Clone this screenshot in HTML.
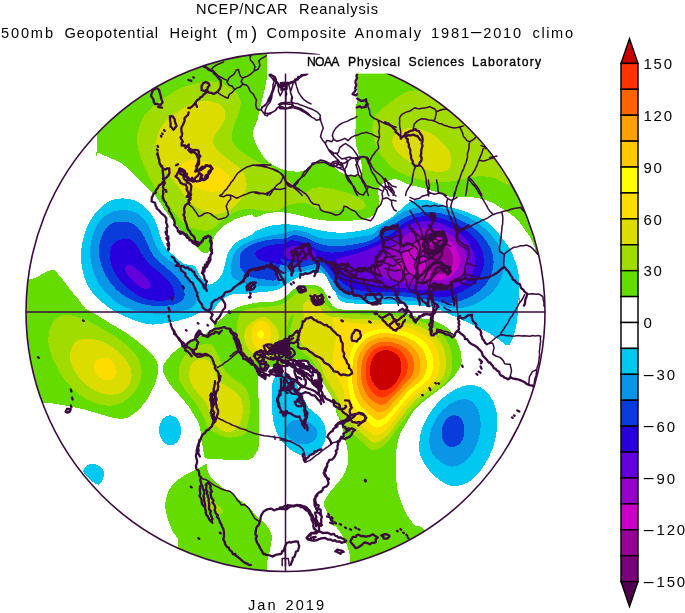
<!DOCTYPE html>
<html><head><meta charset="utf-8"><title>NCEP/NCAR Reanalysis</title>
<style>
html,body{margin:0;padding:0;background:#fff;}
body{width:685px;height:613px;overflow:hidden;position:relative;}
svg{position:absolute;left:0;top:0;display:block;}
text{font-family:"Liberation Sans",sans-serif;fill:#000;}
.t{font-size:14.6px;}
.n{font-size:12.2px;stroke:#000;stroke-width:0.35px;}
.cl{font-size:15px;letter-spacing:1.75px;}
</style></head><body>
<svg width="685" height="613" viewBox="0 0 685 613">
<defs><clipPath id="c"><circle cx="285.5" cy="312" r="259.5"/></clipPath></defs>
<rect width="685" height="613" fill="#fff"/>
<g clip-path="url(#c)">
<g shape-rendering="crispEdges">
<path fill="#00c8f0" d="M116.5,198.9C120.0,198.3 124.6,198.3 128.3,198.9C132.0,199.5 135.5,200.5 138.8,202.3C142.1,204.2 145.4,207.4 148.0,210.2C150.6,213.1 152.8,216.1 154.6,219.4C156.3,222.7 157.4,226.6 158.5,229.9C159.6,233.2 160.1,236.3 161.2,239.1C162.3,242.0 163.1,244.4 165.1,247.0C167.1,249.6 169.9,252.1 173.0,254.9C176.0,257.6 180.0,261.7 183.5,263.6C187.0,265.4 191.4,264.1 194.0,265.9C196.6,267.7 197.7,271.9 199.3,274.3C200.9,276.7 202.0,278.7 203.7,280.4C205.3,282.1 207.0,284.2 208.9,284.5C210.8,284.8 213.1,283.4 215.0,282.2C216.9,280.9 218.8,279.1 220.3,276.9C221.8,274.7 222.9,271.8 223.8,269.1C224.7,266.3 225.2,263.1 225.9,260.3C226.6,257.5 227.1,254.7 228.2,252.4C229.3,250.1 230.7,248.3 232.6,246.3C234.5,244.2 236.6,241.9 239.6,240.1C242.5,238.4 247.5,237.2 250.1,235.8C252.6,234.4 252.1,233.2 255.0,231.7C257.9,230.2 263.2,227.8 267.3,226.6C271.4,225.4 275.4,224.9 279.5,224.6C283.6,224.3 287.7,224.3 291.8,224.6C295.9,224.9 299.9,225.8 304.0,226.6C308.1,227.4 312.2,228.8 316.3,229.7C320.4,230.5 324.5,231.2 328.6,231.7C332.7,232.2 336.7,232.8 340.8,232.8C344.9,232.8 349.0,232.2 353.1,231.7C357.2,231.2 361.3,230.8 365.4,229.7C369.5,228.6 373.8,226.7 377.6,225.0C381.4,223.3 384.9,221.3 388.0,219.5C391.1,217.7 393.5,216.1 396.0,214.0C398.5,211.9 400.7,209.0 403.0,207.0C405.3,205.0 407.5,203.2 410.0,202.0C412.5,200.8 415.1,200.0 418.2,199.7C421.3,199.4 424.6,199.6 428.4,200.4C432.1,201.2 436.9,203.3 440.7,204.5C444.4,205.7 447.2,206.6 450.9,207.6C454.6,208.6 459.0,209.3 463.1,210.7C467.2,212.1 471.6,214.1 475.4,215.8C479.1,217.5 482.5,218.9 485.6,220.9C488.7,222.9 491.4,225.6 493.8,228.0C496.2,230.4 497.8,232.6 499.9,235.2C501.9,237.8 504.2,240.7 506.1,243.4C508.0,246.1 509.7,248.4 511.2,251.5C512.7,254.6 514.1,258.3 515.3,261.7C516.5,265.1 517.6,268.6 518.3,272.0C519.0,275.4 519.1,278.5 519.3,282.2C519.5,285.9 519.2,290.6 519.3,294.4C519.4,298.2 520.1,304.1 520.0,305.0C519.9,305.9 518.9,298.7 518.5,300.0C518.1,301.3 518.2,308.7 517.8,313.0C517.4,317.3 517.1,321.5 516.3,325.7C515.5,329.9 514.4,334.7 513.0,338.0C511.6,341.3 510.2,345.1 508.0,345.5C505.8,345.9 503.3,342.7 500.0,340.5C496.7,338.3 492.8,335.2 488.0,332.5C483.2,329.8 477.3,327.0 471.0,324.0C464.7,321.0 456.8,317.4 450.0,314.5C443.2,311.6 436.7,308.4 430.0,306.8C423.3,305.2 415.8,305.3 410.0,304.8C404.2,304.3 400.0,304.2 395.0,304.0C390.0,303.8 384.7,303.6 380.0,303.5C375.3,303.4 371.0,303.5 366.7,303.5C362.4,303.5 358.1,303.7 354.4,303.5C350.6,303.3 346.8,303.1 344.2,302.4C341.6,301.7 340.5,300.8 339.1,299.4C337.8,298.0 337.0,296.4 336.1,294.3C335.2,292.2 334.9,289.5 334.0,287.1C333.1,284.7 332.3,282.0 330.9,280.0C329.5,278.0 327.7,276.1 325.8,274.9C323.9,273.7 322.4,273.0 319.7,272.8C317.0,272.6 312.9,273.1 309.5,273.8C306.1,274.5 302.4,275.7 299.3,276.9C296.2,278.1 293.5,279.6 291.1,281.0C288.7,282.4 287.1,283.7 285.0,285.1C282.9,286.5 281.2,288.2 278.8,289.2C276.4,290.2 273.8,290.7 270.7,291.2C267.6,291.7 263.8,291.9 260.4,292.2C257.0,292.5 253.6,292.8 250.2,293.2C246.8,293.6 242.4,294.2 240.0,294.3C237.6,294.4 238.5,293.1 236.1,293.6C233.7,294.0 228.6,295.3 225.6,297.1C222.5,298.8 219.9,301.8 217.7,304.1C215.5,306.4 215.0,309.8 212.4,311.1C209.8,312.4 205.4,311.0 201.9,311.9C198.4,312.8 195.3,315.2 191.4,316.6C187.4,318.1 182.6,319.5 178.2,320.6C173.9,321.7 169.5,322.5 165.1,323.2C160.7,323.9 156.3,324.7 152.0,324.5C147.6,324.3 143.2,323.2 138.8,321.9C134.4,320.6 130.1,318.6 125.7,316.6C121.3,314.7 116.5,312.5 112.5,310.1C108.6,307.6 105.3,305.0 102.0,302.2C98.8,299.3 95.5,296.3 92.8,293.0C90.2,289.7 88.0,286.4 86.3,282.5C84.5,278.5 83.2,273.7 82.3,269.3C81.5,265.0 81.1,260.1 81.0,256.2C80.9,252.3 81.2,249.6 81.8,245.7C82.5,241.7 83.6,236.7 85.0,232.5C86.4,228.4 88.0,224.4 90.2,220.7C92.4,217.0 95.3,213.3 98.1,210.2C100.9,207.2 104.2,204.2 107.3,202.3C110.4,200.5 113.0,199.5 116.5,198.9Z"/>
<path fill="#00c8f0" d="M272.0,389.6C272.3,384.7 272.4,381.4 273.9,378.7C275.4,376.0 278.5,373.5 281.2,373.2C283.9,372.9 287.6,374.8 290.3,376.9C293.0,379.0 295.5,382.6 297.6,386.0C299.7,389.4 301.3,393.4 303.1,397.0C304.9,400.6 306.2,404.9 308.6,407.9C311.0,410.9 315.1,412.4 317.7,415.2C320.3,417.9 322.9,420.7 324.3,424.4C325.7,428.1 326.3,433.2 325.8,437.2C325.3,441.1 323.7,445.1 321.4,448.1C319.1,451.1 315.9,454.3 312.2,455.4C308.5,456.5 303.3,455.9 299.4,454.7C295.4,453.5 291.9,451.0 288.5,448.1C285.1,445.2 281.7,441.1 279.3,437.2C276.9,433.2 275.1,429.3 273.9,424.4C272.7,419.5 272.3,413.7 272.0,407.9C271.7,402.1 271.7,394.5 272.0,389.6Z"/>
<path fill="#00c8f0" d="M419.2,447.2C419.2,441.6 420.0,433.7 422.6,427.0C425.1,420.3 429.6,412.7 434.3,406.9C439.1,401.0 445.2,395.4 451.1,391.8C457.0,388.1 464.0,385.3 469.6,385.0C475.2,384.8 480.5,386.7 484.7,390.1C488.9,393.4 492.6,399.6 494.8,405.2C496.9,410.8 497.7,416.7 497.4,423.7C497.2,430.6 495.5,439.9 493.1,447.2C490.7,454.4 487.2,461.4 483.0,467.3C478.8,473.2 473.2,479.3 467.9,482.4C462.6,485.5 456.7,486.9 451.1,485.8C445.5,484.7 439.1,479.9 434.3,475.7C429.6,471.5 425.1,465.3 422.6,460.6C420.0,455.8 419.2,452.8 419.2,447.2Z"/>
<path fill="#00c8f0" d="M170.1,415.3C172.7,415.3 176.0,416.8 177.8,419.4C179.7,421.9 181.2,426.8 181.2,430.4C181.2,434.1 179.7,438.7 177.8,441.2C176.0,443.7 172.6,445.5 170.1,445.5C167.6,445.5 164.6,443.7 162.7,441.2C160.9,438.7 159.1,434.1 159.0,430.4C159.0,426.8 160.5,421.9 162.4,419.4C164.2,416.8 167.5,415.3 170.1,415.3Z"/>
<path fill="#00c8f0" d="M83.4,469.9C84.2,467.7 88.4,464.0 91.5,463.7C94.6,463.4 99.8,465.8 101.8,467.8C103.8,469.9 104.1,473.3 103.8,476.0C103.5,478.7 101.4,483.1 99.7,484.2C98.0,485.3 95.7,483.7 93.6,482.5C91.5,481.3 88.7,479.1 87.0,477.0C85.3,474.9 82.7,472.1 83.4,469.9Z"/>
<path fill="#64dc00" d="M97.0,100.0C97.0,111.7 97.0,91.3 97.0,100.0C97.0,108.7 96.9,143.7 96.9,152.4C96.8,161.1 94.9,151.5 96.9,152.4C98.8,153.2 104.7,155.7 108.6,157.4C112.5,159.1 116.7,160.2 120.4,162.5C124.0,164.7 127.1,167.8 130.4,170.8C133.8,173.9 137.4,177.8 140.5,180.9C143.6,184.0 146.4,186.8 148.9,189.3C151.4,191.8 153.4,193.2 155.6,196.0C157.9,198.8 160.1,202.8 162.3,206.1C164.6,209.5 166.5,212.8 169.1,216.2C171.6,219.5 174.7,222.9 177.5,226.3C180.3,229.6 183.1,233.3 185.8,236.3C188.6,239.4 191.7,242.2 194.2,244.7C196.8,247.2 198.7,250.0 201.0,251.4C203.2,252.8 206.0,254.0 207.7,253.1C209.4,252.3 209.9,249.2 211.0,246.4C212.2,243.6 212.7,239.4 214.4,236.3C216.1,233.3 217.8,230.7 221.1,227.9C224.5,225.1 229.5,221.8 234.5,219.5C239.6,217.3 247.9,214.9 251.3,214.5C254.7,214.1 252.4,217.6 255.0,217.4C257.6,217.2 262.6,214.2 267.0,213.3C271.4,212.5 276.8,212.1 281.6,212.3C286.4,212.5 290.9,213.4 296.0,214.4C301.1,215.4 306.9,217.5 312.0,218.5C317.1,219.5 321.7,220.2 326.5,220.5C331.3,220.8 336.6,220.5 341.0,220.5C345.4,220.5 349.0,220.7 353.0,220.5C357.0,220.3 361.6,220.4 365.0,219.5C368.4,218.6 371.3,216.8 373.5,215.0C375.7,213.2 377.0,211.3 378.0,209.0C379.0,206.7 379.6,204.0 379.6,201.0C379.6,198.0 377.8,193.7 378.0,191.0C378.2,188.3 379.3,186.7 381.0,185.0C382.7,183.3 385.7,182.0 388.0,181.0C390.3,180.0 392.5,178.8 395.0,179.0C397.5,179.2 400.5,181.0 403.0,182.0C405.5,183.0 407.1,184.2 410.0,185.1C412.9,186.0 416.8,186.3 420.2,187.2C423.6,188.0 427.0,189.2 430.4,190.2C433.8,191.2 437.3,192.2 440.7,193.3C444.1,194.4 447.2,196.3 450.9,197.0C454.6,197.7 459.2,197.3 463.0,197.4C466.8,197.5 470.0,197.1 473.4,197.4C476.8,197.7 480.2,198.4 483.6,199.4C487.0,200.4 490.7,202.0 493.8,203.5C496.9,205.0 499.3,206.9 502.0,208.6C504.7,210.3 507.4,211.6 510.1,213.7C512.8,215.8 515.9,218.3 518.3,220.9C520.7,223.5 522.3,226.1 524.4,229.0C526.5,231.9 528.9,235.1 530.6,238.2C532.3,241.3 533.4,244.4 534.7,247.4C536.0,250.4 534.3,253.9 538.5,256.0C542.7,258.1 556.4,259.3 560.0,260.0C563.6,260.7 560.0,298.3 560.0,260.0C560.0,221.7 560.0,68.3 560.0,30.0C560.0,-8.3 637.2,30.0 560.0,30.0C482.8,30.0 174.2,30.0 97.0,30.0C19.8,30.0 97.0,18.3 97.0,30.0C97.0,41.7 97.0,88.3 97.0,100.0Z"/>
<path fill="#64dc00" d="M5.0,280.0C4.7,259.6 0.8,280.2 5.0,280.0C9.2,279.8 24.4,279.7 30.0,279.0C35.6,278.3 35.9,277.2 38.6,276.0C41.3,274.8 43.5,273.1 46.0,272.0C48.5,270.9 51.6,269.5 53.5,269.7C55.4,269.9 55.6,271.3 57.5,273.4C59.4,275.5 62.3,279.0 64.7,282.1C67.1,285.2 69.6,288.9 72.1,292.0C74.6,295.1 77.4,297.9 79.6,300.7C81.8,303.5 82.5,306.1 85.5,308.5C88.4,311.0 93.0,312.7 97.2,315.3C101.4,317.8 105.6,320.6 110.7,323.7C115.7,326.7 122.1,330.1 127.5,333.7C132.8,337.4 138.1,341.6 142.6,345.5C147.0,349.4 151.7,353.6 154.3,357.2C156.9,360.9 158.1,363.4 158.3,367.3C158.6,371.2 157.5,376.0 156.0,380.7C154.5,385.5 152.1,391.1 149.3,395.8C146.5,400.6 142.8,405.6 139.2,409.3C135.6,412.9 131.4,416.2 127.5,417.7C123.5,419.2 120.2,418.9 115.7,418.3C111.2,417.8 105.9,415.8 100.6,414.3C95.3,412.8 89.4,410.7 83.8,409.3C78.2,407.9 72.0,406.9 67.0,405.9C62.0,405.0 57.2,404.1 53.6,403.6C49.9,403.0 53.0,402.7 45.2,402.6C37.3,402.4 13.3,423.0 6.6,402.6C-0.1,382.1 5.3,300.4 5.0,280.0Z"/>
<path fill="#64dc00" d="M162.6,368.4C162.9,364.9 166.1,361.0 168.3,358.0C170.5,355.0 173.0,352.7 175.9,350.4C178.7,348.0 182.2,345.6 185.4,343.7C188.5,341.8 191.4,340.7 194.9,339.0C198.3,337.2 202.4,335.5 206.2,333.3C210.0,331.1 213.8,328.1 217.6,325.7C221.4,323.3 223.6,320.0 229.0,319.1C234.4,318.1 243.3,316.7 249.9,320.0C256.5,323.3 265.7,331.1 268.9,339.0C272.0,346.9 270.6,361.4 268.9,367.4C267.1,373.5 260.2,370.3 258.4,375.0C256.7,379.8 258.3,389.3 258.4,395.9C258.6,402.6 259.2,408.2 259.4,414.9C259.5,421.6 259.5,430.8 259.4,436.0C259.3,441.2 259.3,443.1 258.7,446.1C258.1,449.2 257.2,452.1 255.6,454.3C254.1,456.5 251.9,458.4 249.5,459.4C247.1,460.4 246.1,460.4 241.3,460.4C236.5,460.4 226.7,459.8 220.9,459.4C215.1,459.1 209.5,459.6 206.6,458.4C203.7,457.2 204.7,457.6 203.5,452.3C202.3,446.9 201.0,432.2 199.6,426.3C198.2,420.4 196.6,420.0 194.9,416.8C193.1,413.6 191.4,410.5 189.2,407.3C186.9,404.1 184.3,401.0 181.6,397.8C178.9,394.7 175.6,391.5 173.0,388.3C170.5,385.2 168.1,382.2 166.4,378.8C164.6,375.5 162.3,371.9 162.6,368.4Z"/>
<path fill="#64dc00" d="M230.0,311.0C233.0,309.0 237.0,307.6 240.0,306.5C243.0,305.4 245.1,305.2 248.2,304.5C251.3,303.8 255.0,302.8 258.4,302.4C261.8,302.0 265.2,302.7 268.6,302.4C272.0,302.1 275.9,301.4 278.8,300.4C281.7,299.4 283.9,297.8 286.0,296.3C288.1,294.8 289.2,292.7 291.1,291.2C293.0,289.7 294.8,288.1 297.2,287.1C299.6,286.1 302.7,285.4 305.4,285.1C308.1,284.8 311.1,284.8 313.6,285.1C316.2,285.4 318.8,285.9 320.7,287.1C322.6,288.3 323.6,290.3 324.8,292.2C326.0,294.1 326.9,296.5 327.9,298.4C328.9,300.3 329.7,302.0 330.9,303.5C332.1,305.0 333.1,306.6 335.0,307.6C336.9,308.6 339.3,309.2 342.2,309.6C345.1,310.0 349.0,310.1 352.4,310.2C355.8,310.3 358.0,310.1 362.6,310.2C367.2,310.3 373.8,310.1 380.0,310.6C386.2,311.1 394.7,312.3 400.0,313.0C405.3,313.7 408.3,314.1 412.0,315.0C415.7,315.9 419.2,317.8 422.3,318.5C425.4,319.2 427.7,318.8 430.4,319.5C433.1,320.2 435.9,321.2 438.6,322.6C441.3,324.0 444.2,325.5 446.8,327.7C449.4,329.9 451.9,332.8 453.9,335.9C455.9,339.0 457.8,342.7 459.0,346.1C460.2,349.5 461.0,353.2 461.3,356.3C461.6,359.4 461.9,361.6 461.0,364.5C460.1,367.4 457.9,371.0 456.0,373.7C454.1,376.4 452.1,378.6 449.9,380.8C447.7,383.0 445.3,384.9 442.7,387.0C440.1,389.1 437.2,391.1 434.5,393.1C431.8,395.1 429.0,397.0 426.3,399.2C423.6,401.4 420.4,404.2 418.2,406.4C415.9,408.6 414.7,409.6 412.8,412.3C410.9,415.0 408.7,419.1 406.7,422.5C404.7,425.9 402.1,429.3 400.6,432.7C399.1,436.1 398.2,439.5 397.5,442.9C396.8,446.3 396.4,449.4 396.1,453.1C395.8,456.9 395.5,461.3 395.5,465.4C395.5,469.5 395.8,473.6 396.1,477.7C396.4,481.8 396.8,486.2 397.5,489.9C398.2,493.6 399.4,496.7 400.6,500.1C401.8,503.5 403.0,507.0 404.7,510.4C406.4,513.8 408.9,518.0 410.8,520.6C412.7,523.2 413.6,524.3 416.0,526.0C418.4,527.7 420.9,523.7 424.9,531.0C428.9,538.3 437.5,563.5 440.0,570.0C442.5,576.5 455.0,565.0 440.0,570.0C425.0,575.0 365.0,595.0 350.0,600.0C335.0,605.0 349.9,606.2 350.0,600.0C350.1,593.8 350.4,570.6 350.4,563.0C350.3,555.4 350.5,558.2 349.7,554.6C348.9,551.0 347.4,545.7 345.3,541.2C343.2,536.7 339.1,530.4 336.9,527.7C334.7,525.0 333.4,526.8 332.1,524.9C330.8,523.0 330.0,518.9 329.0,516.5C328.0,514.1 326.9,512.4 326.0,510.4C325.1,508.3 323.9,506.2 323.9,504.2C323.9,502.1 325.0,500.1 326.0,498.1C327.0,496.1 328.6,494.1 330.1,492.0C331.6,489.9 333.5,487.9 335.2,485.8C336.9,483.8 338.8,481.7 340.3,479.7C341.8,477.7 343.2,476.0 344.4,473.6C345.6,471.2 346.7,468.1 347.4,465.4C348.1,462.7 348.5,459.9 348.5,457.2C348.5,454.5 347.9,451.7 347.4,449.0C346.9,446.3 346.1,443.6 345.4,440.9C344.7,438.2 344.1,435.4 343.4,432.7C342.7,430.0 342.2,427.2 341.3,424.5C340.4,421.8 338.9,417.8 338.2,416.3C337.5,414.8 337.3,417.6 336.9,415.5C336.4,413.5 336.4,408.0 335.4,403.9C334.4,399.7 332.7,394.6 331.0,390.7C329.3,386.8 327.4,383.9 325.2,380.5C323.0,377.1 320.8,373.5 317.9,370.3C315.0,367.1 311.3,363.3 307.7,361.5C304.0,359.7 299.4,359.2 296.0,359.5C292.6,359.7 290.6,361.8 287.2,363.0C283.8,364.2 279.2,365.6 275.5,366.5C271.9,367.4 268.2,366.9 265.3,368.2C262.5,369.6 261.3,375.5 258.6,374.7C255.9,373.8 253.3,368.3 249.3,363.0C245.3,357.6 239.2,347.2 234.7,342.6C230.1,337.9 225.4,337.9 222.0,335.0C218.6,332.1 214.0,327.8 214.0,325.0C214.0,322.2 219.3,320.8 222.0,318.5C224.7,316.2 227.0,313.0 230.0,311.0Z"/>
<path fill="#64dc00" d="M165.5,502.0C166.2,497.0 168.3,490.5 171.3,486.2C174.3,481.9 179.4,478.7 183.5,476.0C187.6,473.3 192.2,471.8 195.8,469.9C199.4,468.0 203.2,465.4 205.0,464.5C206.8,463.6 206.1,463.5 206.6,464.5C207.0,465.6 206.9,468.6 207.6,470.7C208.3,472.7 209.1,474.7 210.7,476.8C212.2,478.8 214.7,481.0 216.8,482.9C218.8,484.8 220.7,486.7 222.9,488.0C225.1,489.4 227.9,489.6 230.1,491.1C232.3,492.6 234.3,495.5 236.2,497.2C238.1,498.9 239.4,499.9 241.3,501.3C243.2,502.7 245.6,503.7 247.4,505.4C249.3,507.1 250.8,509.5 252.6,511.5C254.3,513.6 256.0,516.0 257.7,517.7C259.4,519.4 261.2,520.4 262.8,521.7C264.3,523.1 265.7,524.3 266.9,525.8C268.1,527.4 269.1,529.1 269.9,530.9C270.8,532.8 271.8,534.9 272.0,537.1C272.1,539.3 271.3,541.8 270.9,544.2C270.6,546.6 270.4,549.3 269.9,551.4C269.4,553.4 268.6,551.2 267.9,556.5C267.2,561.8 266.2,578.6 265.8,583.1C265.5,587.5 282.9,583.1 265.8,583.1C248.8,583.1 180.7,583.1 163.7,583.1C146.6,583.1 161.3,589.4 163.7,583.1C166.0,576.7 176.6,553.8 178.0,545.0C179.4,536.2 173.8,534.8 172.0,530.0C170.2,525.2 168.1,520.7 167.0,516.0C165.9,511.3 164.8,507.0 165.5,502.0Z"/>
<path fill="#ffffff" d="M267.1,40.0C252.0,40.0 267.1,34.5 267.1,40.0C267.1,45.5 267.2,65.9 267.1,72.8C267.0,79.7 266.8,78.0 266.2,81.5C265.6,85.0 264.6,89.4 263.6,93.8C262.6,98.2 261.1,103.4 260.1,107.8C259.1,112.2 258.4,116.6 257.4,120.1C256.4,123.6 254.6,126.5 253.9,128.8C253.2,131.1 252.9,132.1 253.1,134.1C253.2,136.1 253.8,138.5 254.8,141.1C255.8,143.7 257.7,147.2 259.2,149.9C260.7,152.6 261.8,154.8 263.6,157.0C265.4,159.2 267.4,161.1 270.0,163.0C272.6,164.9 276.2,167.1 279.5,168.4C282.8,169.7 286.6,170.5 290.0,171.0C293.4,171.5 297.2,171.8 300.0,171.5C302.8,171.2 305.0,170.6 307.0,169.4C309.0,168.2 310.3,165.7 312.0,164.3C313.7,162.9 315.3,161.7 317.0,161.0C318.7,160.3 320.6,160.1 322.4,160.3C324.2,160.5 326.3,161.2 328.0,162.0C329.7,162.8 330.6,163.6 332.7,165.3C334.8,167.1 338.4,171.0 340.8,172.5C343.2,174.0 344.6,174.0 347.0,174.5C349.4,175.0 352.7,175.5 355.1,175.5C357.5,175.5 360.1,175.3 361.3,174.5C362.5,173.7 362.3,172.4 362.3,170.4C362.3,168.4 361.9,164.9 361.3,162.3C360.8,159.7 360.0,158.8 359.0,155.0C358.0,151.2 355.9,148.1 355.5,139.3C355.1,130.5 356.3,113.0 356.6,102.0C356.9,91.0 357.4,78.2 357.5,73.5C357.6,68.8 357.5,79.1 357.5,73.5C357.5,67.9 357.5,45.6 357.5,40.0C357.5,34.4 372.6,40.0 357.5,40.0C342.4,40.0 282.2,40.0 267.1,40.0Z"/>
<path fill="#0a96e6" d="M119.1,210.2C123.1,209.7 127.4,210.1 130.9,211.0C134.4,211.9 137.3,213.2 140.1,215.5C143.0,217.7 146.0,221.4 148.0,224.7C150.0,228.0 150.6,231.7 152.0,235.2C153.3,238.7 154.1,242.4 155.9,245.7C157.7,249.0 159.6,252.0 162.5,254.9C165.3,257.7 169.5,259.9 173.0,262.8C176.5,265.6 180.4,268.7 183.5,272.0C186.6,275.2 189.4,279.4 191.4,282.5C193.3,285.5 194.4,287.5 195.3,290.4C196.2,293.2 196.8,296.9 196.6,299.5C196.4,302.2 195.8,304.4 194.0,306.1C192.2,307.9 189.6,309.0 186.1,310.1C182.6,311.2 177.4,312.0 173.0,312.7C168.6,313.3 164.2,314.0 159.8,314.0C155.5,314.0 151.1,313.3 146.7,312.7C142.3,312.0 137.9,311.4 133.6,310.1C129.2,308.7 124.4,307.0 120.4,304.8C116.5,302.6 113.2,300.0 109.9,296.9C106.6,293.9 103.4,290.1 100.7,286.4C98.1,282.7 95.8,278.7 94.2,274.6C92.5,270.4 91.7,265.8 91.0,261.5C90.3,257.1 89.9,252.7 90.2,248.3C90.5,243.9 91.5,239.3 92.8,235.2C94.2,231.0 95.7,226.9 98.1,223.4C100.5,219.8 103.8,216.3 107.3,214.2C110.8,212.0 115.2,210.7 119.1,210.2Z"/>
<path fill="#0a96e6" d="M230.8,270.8C230.7,268.3 231.1,265.0 231.7,262.0C232.3,259.1 232.8,255.9 234.3,253.3C235.8,250.7 237.8,248.3 240.4,246.3C243.1,244.2 246.4,242.5 250.1,241.0C253.7,239.6 258.3,238.5 262.3,237.5C266.4,236.5 270.8,235.6 274.6,234.9C278.4,234.2 281.9,233.9 285.1,233.1C288.4,232.3 290.5,230.3 294.0,230.1C297.5,230.0 302.2,231.2 306.3,232.4C310.4,233.7 314.5,236.5 318.5,237.7C322.6,238.8 326.4,239.2 330.8,239.4C335.2,239.6 340.1,239.3 344.8,238.9C349.5,238.5 354.2,237.6 358.8,236.8C363.5,236.0 369.3,235.8 372.9,234.2C376.4,232.5 376.6,229.2 379.9,226.7C383.1,224.2 388.0,221.6 392.1,219.0C396.2,216.5 399.8,213.4 404.4,211.4C409.0,209.3 414.6,207.6 419.7,206.8C424.8,206.0 429.4,206.0 435.0,206.8C440.7,207.6 447.8,209.6 453.4,211.4C459.0,213.2 463.9,215.0 468.8,217.5C473.6,220.1 478.5,223.4 482.6,226.7C486.6,230.0 490.2,233.6 493.3,237.4C496.3,241.3 499.2,245.6 500.9,249.7C502.7,253.8 503.8,257.9 504.0,262.0C504.3,266.1 503.5,270.4 502.5,274.2C501.5,278.1 499.9,281.6 497.9,285.0C495.8,288.3 493.3,291.3 490.2,294.2C487.1,297.0 483.6,299.6 479.5,301.8C475.4,304.0 470.5,306.3 465.7,307.3C460.8,308.4 456.0,308.6 450.4,308.0C444.7,307.3 440.1,304.6 432.0,303.4C423.8,302.1 411.5,300.8 401.3,300.3C391.1,299.8 375.7,300.4 370.7,300.3C365.6,300.2 373.4,299.9 371.1,299.9C368.8,299.8 361.5,300.2 357.1,299.9C352.7,299.6 348.3,299.3 344.8,298.1C341.3,296.9 338.4,294.9 336.1,292.9C333.7,290.8 332.4,288.5 330.8,285.8C329.2,283.2 328.0,279.7 326.4,277.1C324.8,274.5 323.1,271.5 321.2,270.1C319.3,268.6 317.8,268.2 315.0,268.3C312.3,268.5 308.3,270.2 304.5,271.0C300.7,271.7 296.4,272.7 292.3,272.7C288.2,272.7 282.1,269.1 280.0,271.0C277.9,272.8 281.3,281.5 279.9,283.9C278.4,286.4 274.6,285.4 271.1,285.7C267.6,286.0 262.9,286.0 258.8,285.7C254.7,285.4 250.1,284.8 246.6,283.9C243.1,283.1 240.1,281.6 237.8,280.4C235.5,279.3 233.7,278.5 232.6,276.9C231.4,275.3 231.0,273.3 230.8,270.8Z"/>
<path fill="#0a96e6" d="M286.7,426.2C287.9,423.9 291.0,420.9 294.0,420.0C297.0,419.1 301.5,419.7 304.9,420.7C308.2,421.7 312.0,424.1 314.1,426.2C316.2,428.3 317.8,430.9 317.7,433.5C317.6,436.1 315.7,439.7 313.3,441.5C310.9,443.3 306.6,444.6 303.1,444.5C299.6,444.4 294.8,442.6 292.1,440.8C289.4,439.0 287.6,435.9 286.7,433.5C285.8,431.1 285.5,428.4 286.7,426.2Z"/>
<path fill="#0a96e6" d="M429.3,442.1C429.3,437.4 430.4,430.6 432.6,425.3C434.9,420.0 438.8,414.3 442.7,410.2C446.6,406.1 451.7,402.5 456.1,400.8C460.6,399.1 465.9,398.6 469.6,400.1C473.2,401.7 476.1,405.7 478.0,410.2C479.8,414.7 480.9,421.1 480.7,427.0C480.4,432.9 478.7,439.9 476.3,445.5C473.9,451.1 470.1,457.1 466.2,460.6C462.3,464.1 457.0,466.4 452.8,466.6C448.6,466.9 444.4,464.4 441.0,462.3C437.7,460.1 434.6,457.2 432.6,453.9C430.7,450.5 429.3,446.9 429.3,442.1Z"/>
<path fill="#a0dc00" d="M139.9,124.6C141.2,121.1 142.4,118.0 144.9,114.7C147.4,111.4 151.1,107.9 154.8,104.7C158.5,101.6 163.1,98.7 167.2,96.1C171.4,93.4 175.1,90.7 179.6,88.6C184.2,86.5 189.6,84.9 194.5,83.7C199.5,82.4 204.9,81.2 209.4,81.2C214.0,81.2 217.7,82.0 221.8,83.7C226.0,85.3 231.1,88.4 234.2,91.1C237.3,93.8 239.6,96.3 240.4,99.8C241.3,103.3 240.2,108.1 239.2,112.2C238.2,116.3 235.5,120.7 234.2,124.6C233.0,128.5 231.8,132.5 231.8,135.8C231.8,139.1 232.6,141.8 234.2,144.5C235.9,147.1 238.8,149.6 241.7,151.9C244.6,154.2 248.3,156.2 251.6,158.1C254.9,160.0 257.8,161.4 261.5,163.1C265.3,164.7 267.2,163.4 274.0,168.0C280.7,172.7 295.3,187.6 302.0,190.9C308.7,194.2 310.2,188.3 314.3,187.8C318.4,187.3 322.1,187.3 326.5,187.8C331.0,188.3 336.4,189.7 340.8,190.9C345.3,192.1 349.4,193.3 353.1,195.0C356.8,196.7 361.3,199.0 363.3,201.1C365.4,203.1 366.4,205.7 365.4,207.2C364.3,208.8 360.6,210.1 357.2,210.3C353.8,210.5 348.3,208.2 344.9,208.2C341.5,208.2 340.2,209.8 336.7,210.3C333.3,210.8 328.2,211.8 324.5,211.3C320.7,210.8 317.3,208.6 314.3,207.2C311.2,205.9 309.2,203.8 306.1,203.1C303.0,202.5 299.3,203.0 295.9,203.5C292.5,204.1 289.4,204.9 285.7,206.2C281.9,207.5 279.9,210.8 273.4,211.3C266.9,211.8 254.0,208.3 246.7,209.0C239.3,209.6 235.2,211.8 229.3,215.2C223.3,218.6 216.3,227.2 211.0,229.6C205.8,232.0 201.8,230.5 197.6,229.6C193.4,228.8 189.8,227.4 185.8,224.6C181.9,221.8 177.7,217.0 174.1,212.8C170.5,208.6 167.4,203.9 164.0,199.4C160.7,194.9 157.0,191.0 153.9,186.0C150.9,180.9 148.1,174.8 145.6,169.2C143.0,163.6 140.2,158.0 138.8,152.4C137.4,146.8 137.0,140.2 137.2,135.6C137.3,131.0 138.6,128.1 139.9,124.6Z"/>
<path fill="#a0dc00" d="M385.0,106.8C387.9,104.6 391.8,101.0 395.2,98.6C398.6,96.2 402.0,93.9 405.4,92.5C408.8,91.1 412.3,90.2 415.7,90.4C419.1,90.6 422.5,91.8 425.9,93.5C429.3,95.2 432.7,98.2 436.1,100.7C439.5,103.2 443.6,106.8 446.3,108.8C449.0,110.8 446.8,111.9 452.4,112.9C458.0,113.9 475.4,114.7 480.0,115.0C484.6,115.3 471.7,103.3 480.0,115.0C488.3,126.7 521.7,173.3 530.0,185.0C538.3,196.7 533.7,185.1 530.0,185.0C526.3,184.9 513.4,185.5 507.6,184.4C501.8,183.3 499.5,179.7 495.4,178.3C491.3,177.0 487.2,176.5 483.1,176.3C479.0,176.1 475.2,176.6 470.8,177.3C466.4,178.0 461.3,179.6 456.5,180.4C451.7,181.2 447.3,182.2 442.2,182.4C437.1,182.6 431.3,182.4 425.9,181.4C420.4,180.4 414.6,178.2 409.5,176.3C404.4,174.4 399.3,172.8 395.2,170.1C391.1,167.4 387.9,163.2 385.0,159.9C382.1,156.6 380.0,154.2 378.0,150.0C376.0,145.8 373.8,139.7 373.0,135.0C372.2,130.3 372.2,125.8 373.0,122.0C373.8,118.2 376.0,114.5 378.0,112.0C380.0,109.5 382.1,109.0 385.0,106.8Z"/>
<path fill="#a0dc00" d="M48.5,337.1C48.9,332.9 49.7,327.3 51.9,323.7C54.1,320.0 58.1,316.5 62.0,315.3C65.9,314.0 70.6,315.1 75.4,316.3C80.2,317.4 85.5,319.6 90.5,322.0C95.6,324.3 100.6,327.3 105.6,330.4C110.7,333.4 116.0,336.8 120.7,340.4C125.5,344.1 130.8,348.0 134.2,352.2C137.5,356.4 139.8,361.2 140.9,365.6C142.0,370.1 142.0,374.6 140.9,379.1C139.8,383.5 137.2,388.6 134.2,392.5C131.1,396.4 126.6,400.3 122.4,402.6C118.2,404.8 113.7,405.9 109.0,405.9C104.2,405.9 98.9,404.5 93.9,402.6C88.8,400.6 83.5,397.8 78.8,394.2C74.0,390.5 69.3,385.8 65.3,380.7C61.4,375.7 57.9,369.3 55.3,363.9C52.6,358.6 50.7,353.3 49.6,348.8C48.4,344.4 48.2,341.3 48.5,337.1Z"/>
<path fill="#a0dc00" d="M178.7,371.2C178.9,368.2 179.4,365.5 180.6,362.7C181.9,359.9 183.9,356.7 186.3,354.2C188.7,351.6 191.9,349.3 194.9,347.5C197.9,345.8 201.5,344.2 204.3,343.7C207.2,343.2 210.0,343.6 211.9,344.7C213.8,345.8 214.5,348.2 215.7,350.4C217.0,352.6 218.3,355.1 219.5,358.0C220.8,360.8 221.7,364.6 223.3,367.4C224.9,370.3 226.8,372.8 229.0,375.0C231.2,377.3 234.1,378.8 236.6,380.7C239.1,382.6 242.1,383.9 244.2,386.4C246.3,389.0 248.0,392.4 248.9,395.9C249.9,399.4 249.9,403.5 249.9,407.3C249.9,411.1 249.6,414.9 248.9,418.7C248.3,422.5 246.0,428.2 246.1,430.1C246.2,432.0 250.2,429.2 249.3,430.1C248.3,431.1 244.2,434.8 240.5,436.0C236.9,437.2 231.5,437.9 227.4,437.4C223.2,437.0 218.9,434.6 215.7,433.1C212.5,431.5 210.0,430.6 208.1,428.2C206.2,425.8 205.8,421.9 204.3,418.7C202.9,415.5 201.5,412.4 199.6,409.2C197.7,406.0 195.3,402.9 193.0,399.7C190.6,396.5 187.6,393.4 185.4,390.2C183.2,387.1 180.8,383.9 179.7,380.7C178.6,377.6 178.6,374.2 178.7,371.2Z"/>
<path fill="#a0dc00" d="M244.0,310.6C246.9,309.2 252.2,308.3 256.3,307.6C260.4,306.9 264.5,307.0 268.6,306.5C272.7,306.0 277.5,305.7 280.9,304.5C284.3,303.3 286.6,301.1 289.0,299.4C291.4,297.7 293.1,295.8 295.2,294.3C297.2,292.8 298.9,291.2 301.3,290.2C303.7,289.2 306.9,288.5 309.5,288.5C312.1,288.5 316.2,288.3 316.6,290.2C317.0,292.1 314.8,296.7 312.0,300.0C309.2,303.3 303.7,307.0 300.0,310.0C296.3,313.0 292.2,314.7 290.0,318.0C287.8,321.3 287.8,324.9 287.0,330.0C286.2,335.1 286.8,343.8 285.0,348.5C283.2,353.2 279.8,355.6 276.5,358.0C273.2,360.4 268.9,362.2 265.1,362.7C261.3,363.2 257.2,362.2 253.7,360.8C250.2,359.4 246.7,356.6 244.2,354.2C241.7,351.8 239.8,349.5 238.5,346.6C237.2,343.7 236.8,340.6 236.6,337.0C236.3,333.4 236.6,328.5 237.0,325.0C237.4,321.5 237.8,318.4 239.0,316.0C240.2,313.6 241.1,312.0 244.0,310.6Z"/>
<path fill="#a0dc00" d="M293.1,319.3C293.9,316.0 294.2,311.6 295.0,308.0C295.8,304.4 296.9,301.0 298.0,298.0C299.1,295.0 299.4,291.8 301.3,290.2C303.2,288.6 306.9,288.5 309.5,288.5C312.1,288.5 314.7,289.1 316.6,290.2C318.5,291.3 319.5,293.4 320.7,295.3C321.9,297.2 322.6,299.5 323.8,301.4C325.0,303.3 326.4,304.9 327.9,306.5C329.4,308.1 330.6,309.8 333.0,311.0C335.4,312.2 337.7,313.1 342.2,313.7C346.7,314.3 353.7,314.3 360.0,314.5C366.3,314.7 373.3,314.6 380.0,314.8C386.7,315.1 394.2,315.3 400.0,316.0C405.8,316.7 411.7,315.8 415.0,319.0C418.3,322.2 422.5,324.8 420.0,335.0C417.5,345.2 405.8,367.5 400.0,380.0C394.2,392.5 390.8,402.5 385.0,410.0C379.2,417.5 371.0,421.8 365.0,425.0C359.0,428.2 352.9,430.0 349.2,429.4C345.5,428.8 344.8,425.2 342.6,421.5C340.4,417.8 337.9,411.1 336.1,407.0C334.3,402.9 333.3,400.3 331.7,397.2C330.1,394.1 328.1,391.4 326.4,388.5C324.6,385.6 322.6,382.5 321.2,379.7C319.8,376.9 318.7,374.3 317.7,371.8C316.7,369.3 316.3,367.1 315.0,364.8C313.7,362.5 311.8,359.8 309.8,357.8C307.8,355.8 305.1,354.6 302.8,352.6C300.5,350.6 297.7,348.2 295.8,345.6C293.9,343.0 292.3,339.7 291.4,336.8C290.5,333.9 290.2,330.9 290.5,328.0C290.8,325.1 292.4,322.6 293.1,319.3Z"/>
<path fill="#a0dc00" d="M334.1,371.0C334.2,368.3 334.7,365.7 335.0,363.0C335.3,360.3 335.4,357.6 335.9,354.9C336.4,352.2 337.1,349.4 338.0,346.8C338.9,344.2 340.0,341.5 341.4,339.0C342.8,336.5 344.5,334.1 346.4,331.9C348.3,329.7 350.4,327.6 352.7,325.8C354.9,324.0 357.4,322.3 360.0,321.0C362.6,319.7 365.5,318.7 368.3,317.9C371.1,317.1 374.0,316.6 376.8,316.2C379.7,315.9 382.6,315.9 385.5,315.9C388.4,316.0 391.3,316.1 394.1,316.5C397.0,316.8 399.8,317.4 402.8,317.9C405.7,318.3 408.8,318.5 411.9,319.2C415.0,319.8 418.2,320.6 421.3,321.7C424.4,322.9 427.6,324.2 430.6,325.9C433.7,327.5 436.9,329.4 439.5,331.8C442.2,334.1 444.7,336.9 446.6,339.9C448.5,342.9 449.9,346.3 450.9,349.8C451.9,353.2 452.3,356.9 452.4,360.4C452.5,363.9 452.4,367.6 451.5,371.0C450.6,374.4 449.0,377.8 446.9,380.7C444.8,383.6 441.6,386.1 438.9,388.3C436.1,390.5 433.1,392.2 430.5,394.0C428.0,395.7 425.6,397.0 423.4,398.6C421.3,400.1 419.6,401.7 417.9,403.4C416.1,405.1 414.5,406.7 412.8,408.6C411.2,410.5 409.6,412.5 407.8,414.8C406.0,417.1 404.3,419.4 402.2,422.3C400.0,425.1 397.9,428.3 395.2,431.9C392.4,435.6 389.2,441.0 385.5,444.0C381.8,447.1 376.8,450.5 373.0,450.2C369.1,449.9 365.6,444.9 362.4,442.2C359.1,439.5 356.2,436.7 353.4,433.9C350.7,431.2 348.0,428.6 345.8,425.6C343.6,422.7 341.7,419.5 340.2,416.3C338.7,413.1 337.7,409.6 336.9,406.3C336.0,403.1 335.6,399.8 335.1,396.7C334.6,393.6 334.2,390.7 334.0,387.7C333.8,384.8 333.9,382.0 333.9,379.2C334.0,376.4 333.9,373.7 334.1,371.0Z"/>
<path fill="#a0dc00" d="M201.5,499.3C201.6,498.2 203.0,497.1 204.5,497.2C206.1,497.4 208.6,499.1 210.7,500.3C212.7,501.5 214.9,503.0 216.8,504.4C218.7,505.7 220.9,507.1 221.9,508.5C222.9,509.8 223.3,511.5 222.9,512.6C222.6,513.6 221.2,514.8 219.9,514.6C218.5,514.4 216.6,512.7 214.7,511.5C212.9,510.3 210.5,508.8 208.6,507.4C206.7,506.1 204.7,504.7 203.5,503.4C202.3,502.0 201.3,500.3 201.5,499.3Z"/>
<path fill="#0a3cdc" d="M116.5,222.0C119.6,221.6 124.8,221.2 128.3,222.0C131.8,222.9 134.9,224.9 137.5,227.3C140.1,229.7 142.1,233.0 144.1,236.5C146.0,240.0 147.4,244.6 149.3,248.3C151.3,252.0 153.3,255.8 155.9,258.8C158.5,261.9 161.8,263.9 165.1,266.7C168.4,269.6 172.8,272.8 175.6,275.9C178.5,279.0 180.6,282.0 182.2,285.1C183.7,288.2 184.8,291.7 184.8,294.3C184.8,296.9 184.1,299.1 182.2,300.9C180.2,302.6 176.7,303.9 173.0,304.8C169.3,305.7 164.2,306.1 159.8,306.1C155.5,306.1 151.1,305.7 146.7,304.8C142.3,303.9 137.7,302.6 133.6,300.9C129.4,299.1 125.5,297.1 121.7,294.3C118.0,291.4 114.3,287.7 111.2,283.8C108.2,279.8 105.3,275.0 103.4,270.6C101.4,266.3 100.1,261.9 99.4,257.5C98.8,253.1 98.8,248.5 99.4,244.4C100.1,240.2 101.6,235.8 103.4,232.5C105.1,229.3 107.7,226.4 109.9,224.7C112.1,222.9 113.4,222.5 116.5,222.0Z"/>
<path fill="#0a3cdc" d="M240.4,267.3C239.6,265.1 239.4,262.8 239.6,260.3C239.7,257.8 239.9,254.7 241.3,252.4C242.8,250.1 245.4,248.0 248.3,246.3C251.2,244.5 254.7,243.1 258.8,241.9C262.9,240.7 268.5,239.9 272.9,239.3C277.2,238.7 281.6,239.1 285.1,238.4C288.6,237.7 290.5,235.2 294.0,235.0C297.5,234.9 302.5,236.4 306.3,237.7C310.1,239.0 313.0,241.5 316.8,242.9C320.6,244.3 324.7,245.4 329.1,245.9C333.4,246.4 338.4,246.3 343.1,245.9C347.7,245.6 352.4,244.7 357.1,243.8C361.8,242.9 367.1,242.1 371.1,240.3C375.2,238.5 377.4,235.6 381.4,232.8C385.4,230.1 390.8,226.5 395.2,223.6C399.5,220.8 403.1,217.9 407.4,216.0C411.8,214.1 416.6,212.9 421.2,212.3C425.8,211.7 430.2,211.7 435.0,212.3C439.9,212.9 445.3,214.2 450.4,216.0C455.5,217.7 461.1,220.2 465.7,222.7C470.3,225.3 474.4,228.1 478.0,231.3C481.5,234.5 484.7,238.2 487.1,242.0C489.6,245.9 491.6,250.2 492.7,254.3C493.7,258.4 493.7,262.7 493.3,266.6C492.9,270.4 491.7,274.0 490.2,277.3C488.7,280.6 486.6,283.7 484.1,286.5C481.5,289.3 478.5,291.9 474.9,294.2C471.3,296.5 467.2,298.8 462.6,300.3C458.0,301.8 452.4,303.4 447.3,303.4C442.2,303.4 439.6,301.5 432.0,300.3C424.3,299.1 411.5,297.0 401.3,296.3C391.1,295.6 375.1,296.3 370.7,296.3C366.2,296.3 376.0,296.5 374.6,296.4C373.2,296.2 366.4,296.1 362.3,295.5C358.3,294.9 353.9,294.2 350.1,292.9C346.3,291.5 342.5,289.6 339.6,287.6C336.6,285.6 334.7,283.2 332.6,280.6C330.4,278.0 328.3,274.3 326.4,271.8C324.5,269.3 323.1,267.0 321.2,265.7C319.3,264.4 317.8,263.8 315.0,263.9C312.3,264.1 308.3,266.0 304.5,266.6C300.7,267.2 296.4,267.6 292.3,267.4C288.2,267.3 282.7,263.7 280.0,265.7C277.3,267.7 278.7,277.3 276.4,279.6C274.0,281.9 269.6,279.9 265.8,279.6C262.0,279.3 257.1,278.8 253.6,277.8C250.1,276.8 247.0,275.2 244.8,273.4C242.6,271.7 241.3,269.5 240.4,267.3Z"/>
<path fill="#0a3cdc" d="M441.7,433.7C441.6,430.1 442.5,425.1 444.4,422.0C446.2,418.9 450.0,415.8 452.8,415.3C455.6,414.7 459.2,416.1 461.2,418.6C463.1,421.1 464.5,426.5 464.5,430.4C464.5,434.3 463.1,439.3 461.2,442.1C459.2,444.9 455.5,446.9 452.8,447.2C450.1,447.4 446.9,446.0 445.1,443.8C443.2,441.6 441.8,437.4 441.7,433.7Z"/>
<path fill="#dcdc00" d="M156.1,142.0C156.3,137.4 157.9,133.3 159.8,129.6C161.6,125.8 164.3,122.5 167.2,119.6C170.1,116.7 173.4,114.7 177.2,112.2C180.9,109.7 185.4,106.6 189.6,104.7C193.7,102.9 197.8,101.4 202.0,101.0C206.1,100.6 210.9,101.2 214.4,102.3C217.9,103.3 221.2,104.7 223.1,107.2C224.9,109.7 226.0,113.8 225.6,117.2C225.1,120.5 222.5,124.0 220.6,127.1C218.7,130.2 215.6,133.1 214.4,135.8C213.1,138.5 212.5,140.7 213.1,143.2C213.8,145.7 215.8,148.2 218.1,150.7C220.4,153.1 223.7,155.6 226.8,158.1C229.9,160.6 233.8,162.9 236.7,165.6C239.6,168.2 242.5,171.1 244.2,174.2C245.8,177.3 246.7,180.9 246.7,184.2C246.7,187.5 245.8,190.8 244.2,194.1C242.5,197.4 239.6,201.1 236.7,204.0C233.8,206.9 230.5,209.8 226.8,211.5C223.1,213.1 218.5,214.2 214.4,214.0C210.3,213.7 205.7,211.9 202.0,210.2C198.3,208.6 195.2,206.7 192.1,204.0C188.9,201.3 186.3,197.8 183.4,194.1C180.5,190.4 177.8,185.8 174.7,181.7C171.6,177.6 167.4,173.4 164.7,169.3C162.1,165.1 160.0,161.4 158.5,156.9C157.1,152.3 155.9,146.5 156.1,142.0Z"/>
<path fill="#dcdc00" d="M392.2,141.5C392.2,138.8 393.3,135.4 395.2,133.4C397.1,131.3 400.3,130.1 403.4,129.3C406.5,128.4 410.2,128.1 413.6,128.2C417.0,128.4 420.4,129.1 423.8,130.3C427.2,131.5 430.8,133.2 434.0,135.4C437.3,137.6 440.7,140.8 443.2,143.6C445.8,146.3 448.0,149.0 449.4,151.7C450.7,154.5 451.4,157.2 451.4,159.9C451.4,162.6 450.9,166.1 449.4,168.1C447.8,170.1 445.1,171.3 442.2,171.8C439.3,172.3 435.4,171.8 432.0,171.2C428.6,170.6 425.2,169.5 421.8,168.1C418.4,166.7 414.8,164.9 411.6,163.0C408.3,161.1 405.1,159.1 402.4,156.9C399.6,154.6 396.9,152.3 395.2,149.7C393.5,147.2 392.2,144.3 392.2,141.5Z"/>
<path fill="#dcdc00" d="M70.4,352.2C71.2,349.1 72.9,344.4 75.4,342.1C77.9,339.9 81.6,339.0 85.5,338.8C89.4,338.5 94.4,339.0 98.9,340.4C103.4,341.8 108.1,344.4 112.3,347.2C116.5,350.0 121.0,353.6 124.1,357.2C127.2,360.9 129.7,365.1 130.8,369.0C131.9,372.9 131.9,377.1 130.8,380.7C129.7,384.4 127.2,388.5 124.1,390.8C121.0,393.2 116.5,394.6 112.3,394.8C108.1,395.1 103.4,394.3 98.9,392.5C94.4,390.7 89.4,387.5 85.5,384.1C81.6,380.7 77.9,376.3 75.4,372.3C72.9,368.4 71.2,363.9 70.4,360.6C69.5,357.2 69.5,355.3 70.4,352.2Z"/>
<path fill="#dcdc00" d="M189.2,372.2C189.3,369.5 189.8,366.7 191.1,364.6C192.3,362.5 194.5,360.8 196.8,359.9C199.0,358.9 202.1,358.6 204.3,358.9C206.6,359.2 208.5,360.0 210.0,361.8C211.6,363.5 212.6,366.8 213.8,369.3C215.1,371.9 216.2,374.6 217.6,376.9C219.1,379.3 220.2,381.7 222.4,383.6C224.6,385.5 228.2,386.4 230.9,388.3C233.6,390.2 236.6,392.4 238.5,395.0C240.4,397.5 241.6,400.5 242.3,403.5C243.0,406.5 243.0,409.8 242.7,413.0C242.4,416.2 241.7,419.6 240.4,422.5C239.1,425.3 236.9,428.5 234.7,430.1C232.5,431.7 229.7,432.1 227.1,432.0C224.6,431.8 221.7,430.7 219.5,429.1C217.3,427.5 215.4,425.2 213.8,422.5C212.3,419.8 211.3,416.2 210.0,413.0C208.8,409.8 207.8,406.4 206.2,403.5C204.7,400.7 202.6,398.4 200.5,395.9C198.5,393.4 195.6,390.9 193.9,388.3C192.2,385.8 190.9,383.4 190.1,380.7C189.3,378.0 189.0,374.9 189.2,372.2Z"/>
<path fill="#dcdc00" d="M244.2,335.2C244.4,331.7 246.1,328.2 248.0,325.7C249.9,323.2 252.7,321.4 255.6,320.0C258.4,318.6 261.6,315.9 265.1,317.2C268.6,318.4 274.3,324.0 276.5,327.6C278.7,331.2 279.0,335.2 278.4,339.0C277.7,342.8 275.2,347.7 272.7,350.4C270.1,353.1 266.3,354.5 263.2,355.1C260.0,355.7 256.4,355.6 253.7,354.2C251.0,352.7 248.6,349.7 247.0,346.6C245.5,343.4 244.0,338.7 244.2,335.2Z"/>
<path fill="#dcdc00" d="M304.5,321.0C304.8,318.3 303.2,314.8 303.0,312.0C302.8,309.2 302.7,306.4 303.4,304.5C304.1,302.6 305.7,301.1 307.4,300.4C309.1,299.7 311.7,299.7 313.6,300.4C315.5,301.1 317.3,302.8 318.7,304.5C320.1,306.2 320.6,308.9 321.8,310.6C323.0,312.3 324.1,313.7 325.8,314.7C327.5,315.7 329.3,316.3 332.0,316.8C334.7,317.3 338.4,317.1 342.2,317.5C346.0,317.9 350.4,318.7 355.0,319.0C359.6,319.3 365.0,319.3 370.0,319.5C375.0,319.7 380.0,319.8 385.0,320.0C390.0,320.2 395.8,317.7 400.0,321.0C404.2,324.3 410.0,330.2 410.0,340.0C410.0,349.8 404.2,369.2 400.0,380.0C395.8,390.8 390.8,398.7 385.0,405.0C379.2,411.3 370.4,415.2 365.0,418.0C359.6,420.8 355.6,422.2 352.5,421.5C349.4,420.8 348.3,416.1 346.6,413.7C344.9,411.3 343.7,409.6 342.2,407.0C340.7,404.4 339.4,401.0 337.8,398.1C336.2,395.2 334.4,392.3 332.6,389.4C330.9,386.5 328.8,383.2 327.3,380.6C325.8,378.0 324.8,376.1 323.8,373.6C322.8,371.1 322.4,368.2 321.2,365.7C320.0,363.2 318.4,360.9 316.8,358.7C315.2,356.5 313.2,354.5 311.5,352.6C309.8,350.7 308.1,349.1 306.3,347.3C304.6,345.5 302.2,344.1 301.0,342.0C299.8,339.9 299.3,337.3 299.3,335.0C299.3,332.7 300.1,330.3 301.0,328.0C301.9,325.7 304.2,323.7 304.5,321.0Z"/>
<path fill="#dcdc00" d="M338.6,371.0C338.7,368.5 339.1,366.2 339.4,363.7C339.7,361.2 339.7,358.7 340.2,356.3C340.6,353.8 341.3,351.3 342.1,348.9C342.9,346.5 344.0,344.0 345.2,341.7C346.5,339.5 348.0,337.2 349.7,335.2C351.4,333.2 353.3,331.2 355.4,329.5C357.4,327.8 359.7,326.3 362.1,325.0C364.5,323.8 367.1,322.9 369.6,322.2C372.2,321.4 374.9,320.9 377.5,320.5C380.2,320.2 382.8,320.2 385.5,320.2C388.2,320.2 390.8,320.4 393.5,320.7C396.1,321.0 398.7,321.6 401.4,322.1C404.1,322.5 406.9,322.8 409.7,323.4C412.6,324.1 415.4,324.8 418.3,325.9C421.1,327.0 424.0,328.2 426.7,329.8C429.4,331.4 432.2,333.2 434.6,335.3C437.0,337.5 439.2,340.0 440.9,342.8C442.6,345.5 443.9,348.7 444.7,351.8C445.6,354.9 445.9,358.2 446.0,361.4C446.1,364.6 446.0,367.9 445.1,371.0C444.3,374.1 443.0,377.2 441.1,379.8C439.2,382.4 436.4,384.7 434.0,386.7C431.5,388.8 428.9,390.3 426.6,391.9C424.3,393.5 422.1,394.8 420.2,396.2C418.3,397.7 416.8,399.1 415.2,400.7C413.6,402.3 412.1,403.8 410.6,405.5C409.1,407.3 407.6,409.1 406.0,411.1C404.3,413.2 402.7,415.3 400.7,417.9C398.8,420.5 396.8,423.4 394.3,426.6C391.8,429.8 388.9,434.6 385.5,437.3C382.1,440.0 377.6,443.0 374.1,442.7C370.7,442.4 367.5,438.0 364.5,435.6C361.6,433.2 358.9,430.7 356.4,428.2C353.9,425.7 351.4,423.3 349.4,420.6C347.4,418.0 345.7,415.1 344.3,412.2C343.0,409.3 342.0,406.1 341.3,403.1C340.5,400.2 340.1,397.2 339.6,394.4C339.2,391.6 338.7,388.9 338.5,386.3C338.4,383.6 338.5,381.0 338.5,378.5C338.5,375.9 338.4,373.5 338.6,371.0Z"/>
<path fill="#2800dc" d="M121.7,239.1C124.4,238.5 127.2,238.2 129.6,239.1C132.0,240.0 134.2,242.0 136.2,244.4C138.2,246.8 139.5,250.5 141.5,253.6C143.4,256.6 145.4,259.9 148.0,262.8C150.6,265.6 154.1,268.0 157.2,270.6C160.3,273.3 163.8,275.7 166.4,278.5C169.0,281.4 171.7,284.9 173.0,287.7C174.3,290.6 175.0,293.6 174.3,295.6C173.6,297.6 171.4,298.7 169.0,299.5C166.6,300.4 163.3,300.9 159.8,300.9C156.3,300.9 152.0,300.6 148.0,299.5C144.1,298.5 139.9,296.5 136.2,294.3C132.5,292.1 129.0,289.5 125.7,286.4C122.4,283.3 118.9,279.6 116.5,275.9C114.1,272.2 112.3,268.0 111.2,264.1C110.1,260.1 109.5,255.8 109.9,252.3C110.4,248.8 111.9,245.2 113.9,243.1C115.8,240.9 119.1,239.8 121.7,239.1Z"/>
<path fill="#2800dc" d="M255.3,255.0C255.0,253.6 255.6,252.0 257.1,250.7C258.5,249.3 261.2,248.2 264.1,247.2C267.0,246.1 271.1,245.0 274.6,244.5C278.1,244.0 282.5,244.9 285.1,244.2C287.8,243.5 287.9,240.6 290.5,240.3C293.2,239.9 297.5,241.0 301.0,242.0C304.5,243.1 308.3,245.0 311.5,246.4C314.7,247.9 317.1,249.8 320.3,250.8C323.5,251.8 327.0,252.4 330.8,252.6C334.6,252.7 339.0,252.3 343.1,251.7C347.2,251.1 351.2,250.1 355.3,249.1C359.4,248.0 361.7,248.0 367.6,245.6C373.5,243.1 385.0,237.8 390.6,234.4C396.2,231.0 397.7,227.7 401.3,225.2C404.9,222.6 408.2,220.6 412.0,219.0C415.9,217.5 420.0,216.2 424.3,216.0C428.6,215.7 433.5,216.5 438.1,217.5C442.7,218.5 447.6,220.2 451.9,222.1C456.2,224.0 460.3,226.2 464.2,228.9C468.0,231.5 472.0,234.6 474.9,238.1C477.8,241.5 480.1,245.7 481.6,249.7C483.2,253.7 484.1,258.1 484.1,262.0C484.1,265.8 482.9,269.4 481.6,272.7C480.4,276.0 478.8,279.2 476.4,281.9C474.0,284.6 470.5,286.9 467.2,288.9C463.9,291.0 460.3,292.8 456.5,294.2C452.7,295.5 448.8,297.0 444.2,297.2C439.6,297.5 436.1,296.6 428.9,295.7C421.7,294.8 411.0,292.6 401.3,292.0C391.6,291.4 375.7,292.0 370.7,292.0C365.6,292.0 373.1,292.3 371.1,292.0C369.1,291.7 362.9,291.2 358.8,290.2C354.7,289.2 350.1,287.7 346.6,285.8C343.1,283.9 340.4,281.5 337.8,278.8C335.2,276.2 333.4,273.1 330.8,270.1C328.2,267.0 324.7,262.3 322.0,260.4C319.4,258.5 318.3,258.5 315.0,258.7C311.8,258.8 306.9,260.9 302.8,261.3C298.7,261.8 294.3,261.8 290.5,261.3C286.7,260.9 280.9,258.1 280.0,258.7C279.1,259.2 285.4,263.8 285.1,264.7C284.8,265.5 281.0,264.2 278.1,263.8C275.2,263.4 270.8,262.8 267.6,262.0C264.4,261.3 260.9,260.6 258.8,259.4C256.8,258.3 255.6,256.5 255.3,255.0Z"/>
<path fill="#ffdc00" d="M179.6,166.8C180.9,164.5 185.0,161.6 188.3,160.6C191.6,159.6 195.6,160.0 199.5,160.6C203.4,161.2 208.0,162.7 211.9,164.3C215.8,166.0 220.0,168.2 223.1,170.5C226.2,172.8 229.3,175.5 230.5,178.0C231.8,180.4 232.0,183.3 230.5,185.4C229.1,187.5 225.4,189.3 221.8,190.4C218.3,191.4 213.6,192.0 209.4,191.6C205.3,191.2 200.7,189.5 197.0,187.9C193.3,186.2 189.8,184.0 187.1,181.7C184.4,179.4 182.1,176.7 180.9,174.2C179.6,171.8 178.4,169.1 179.6,166.8Z"/>
<path fill="#ffdc00" d="M93.9,365.6C94.2,362.9 96.7,360.2 98.9,358.9C101.2,357.6 104.8,357.1 107.3,357.9C109.8,358.7 112.5,361.5 114.0,363.9C115.6,366.4 117.0,369.8 116.7,372.3C116.4,374.9 114.5,377.8 112.3,379.1C110.2,380.3 106.5,380.4 103.9,379.7C101.4,379.1 98.9,377.4 97.2,375.0C95.6,372.7 93.6,368.3 93.9,365.6Z"/>
<path fill="#ffdc00" d="M251.8,331.4C252.3,328.4 253.8,325.5 255.6,323.8C257.3,322.1 260.0,320.8 262.2,320.9C264.4,321.1 267.5,322.7 268.9,324.7C270.3,326.8 270.8,330.3 270.8,333.3C270.8,336.3 270.0,340.2 268.9,342.8C267.8,345.3 266.0,347.5 264.1,348.5C262.2,349.4 259.4,349.6 257.5,348.5C255.6,347.4 253.7,344.7 252.7,341.8C251.8,339.0 251.3,334.4 251.8,331.4Z"/>
<path fill="#ffdc00" d="M332.6,317.5C334.4,316.8 340.4,321.0 345.0,322.0C349.6,323.0 355.0,323.2 360.0,323.5C365.0,323.8 370.5,323.9 375.0,324.0C379.5,324.1 382.8,321.6 387.0,324.3C391.2,327.0 398.7,330.7 400.0,340.0C401.3,349.3 398.3,370.0 395.0,380.0C391.7,390.0 385.5,395.0 380.0,400.0C374.5,405.0 366.9,408.6 362.0,410.0C357.1,411.4 352.9,410.7 350.5,408.4C348.1,406.1 348.8,399.9 347.4,396.4C346.0,392.9 343.8,390.5 342.2,387.6C340.6,384.7 339.1,381.7 337.8,378.8C336.5,375.9 335.2,373.0 334.3,370.1C333.4,367.2 332.8,364.2 332.6,361.3C332.5,358.4 333.0,355.5 333.4,352.6C333.8,349.7 334.8,346.7 335.2,343.8C335.6,340.9 336.2,337.9 336.1,335.0C336.0,332.1 334.9,329.2 334.3,326.3C333.7,323.4 330.8,318.2 332.6,317.5Z"/>
<path fill="#ffdc00" d="M343.1,371.0C343.2,368.8 343.6,366.6 343.8,364.4C344.0,362.2 344.1,359.9 344.5,357.7C344.9,355.4 345.4,353.2 346.2,351.0C347.0,348.8 347.9,346.6 349.0,344.5C350.2,342.4 351.5,340.4 353.0,338.5C354.5,336.6 356.2,334.8 358.1,333.3C359.9,331.7 362.0,330.2 364.1,329.1C366.3,327.9 368.7,327.1 371.0,326.4C373.3,325.7 375.8,325.2 378.2,324.8C380.6,324.5 383.1,324.5 385.5,324.5C387.9,324.5 390.4,324.7 392.8,325.0C395.2,325.2 397.6,325.8 400.0,326.2C402.5,326.7 405.1,327.0 407.6,327.6C410.1,328.3 412.7,329.0 415.3,330.1C417.8,331.1 420.3,332.3 422.7,333.8C425.1,335.2 427.6,336.9 429.7,338.9C431.8,340.9 433.7,343.2 435.2,345.7C436.7,348.2 437.8,351.0 438.5,353.8C439.3,356.6 439.6,359.6 439.6,362.4C439.6,365.3 439.5,368.3 438.8,371.0C438.1,373.7 436.9,376.5 435.3,378.9C433.7,381.2 431.2,383.3 429.1,385.2C427.0,387.0 424.6,388.4 422.6,389.9C420.6,391.3 418.7,392.5 417.0,393.9C415.3,395.2 414.0,396.6 412.5,398.0C411.1,399.5 409.8,400.9 408.4,402.5C407.0,404.0 405.6,405.7 404.1,407.5C402.6,409.4 401.1,411.3 399.3,413.6C397.6,415.9 395.8,418.4 393.5,421.2C391.2,424.1 388.5,428.2 385.5,430.6C382.5,432.9 378.5,435.4 375.3,435.2C372.2,434.9 369.3,431.1 366.7,429.0C364.0,426.9 361.6,424.6 359.3,422.4C357.0,420.2 354.9,418.0 353.1,415.6C351.3,413.2 349.7,410.6 348.5,408.0C347.2,405.4 346.4,402.6 345.7,399.9C344.9,397.3 344.5,394.6 344.1,392.1C343.7,389.6 343.3,387.2 343.1,384.8C342.9,382.4 343.0,380.0 343.0,377.7C343.0,375.4 342.9,373.2 343.1,371.0Z"/>
<path fill="#6400dc" d="M127.0,265.4C128.4,264.7 131.2,265.4 133.6,266.7C136.0,268.0 139.0,271.1 141.5,273.3C143.9,275.5 146.5,277.7 148.0,279.8C149.6,282.0 151.1,284.9 150.6,286.4C150.2,287.9 147.6,289.3 145.4,289.0C143.2,288.8 140.1,287.1 137.5,285.1C134.9,283.1 131.7,279.6 129.6,277.2C127.6,274.8 125.6,272.6 125.2,270.6C124.7,268.7 125.6,266.0 127.0,265.4Z"/>
<path fill="#6400dc" d="M287.0,248.2C289.1,246.8 292.6,246.0 295.8,245.9C299.0,245.8 303.2,246.3 306.3,247.3C309.3,248.3 312.6,250.1 314.2,251.7C315.8,253.3 316.6,255.5 315.9,256.9C315.2,258.3 312.6,259.5 309.8,260.1C307.0,260.7 302.8,260.7 299.3,260.4C295.8,260.2 291.4,259.7 288.8,258.7C286.1,257.7 283.8,256.1 283.5,254.3C283.2,252.6 285.0,249.6 287.0,248.2Z"/>
<path fill="#6400dc" d="M336.1,260.4C335.8,259.1 335.5,259.6 337.8,258.7C340.1,257.8 346.0,256.4 350.1,255.2C354.2,254.0 355.8,254.1 362.3,251.7C368.8,249.2 383.1,243.6 389.0,240.5C395.0,237.4 394.9,235.4 398.2,232.8C401.6,230.3 405.1,227.1 409.0,225.2C412.8,223.3 416.9,222.0 421.2,221.5C425.6,221.0 430.4,221.2 435.0,222.1C439.6,223.0 444.5,224.7 448.8,226.7C453.2,228.8 457.5,231.3 461.1,234.4C464.7,237.4 468.0,241.3 470.3,245.1C472.6,248.9 474.2,253.5 474.9,257.4C475.6,261.2 475.0,264.8 474.3,268.1C473.5,271.4 472.2,274.6 470.3,277.3C468.3,280.0 465.7,282.1 462.6,284.0C459.6,286.0 455.7,287.8 451.9,288.9C448.1,290.1 444.0,290.9 439.6,291.1C435.3,291.3 432.2,290.7 425.8,290.2C419.5,289.7 408.5,288.7 401.3,288.0C394.2,287.3 389.1,286.8 382.9,285.9C376.7,284.9 369.0,283.5 364.1,282.3C359.2,281.2 356.8,280.3 353.6,278.8C350.4,277.4 347.2,275.6 344.8,273.6C342.5,271.5 341.0,268.8 339.6,266.6C338.1,264.4 336.4,261.8 336.1,260.4Z"/>
<path fill="#ffff00" d="M256.9,334.2C256.9,333.1 258.1,331.6 259.0,331.0C259.9,330.4 261.6,330.2 262.4,330.6C263.3,331.1 264.1,332.5 264.1,333.7C264.2,334.8 263.7,336.7 262.8,337.5C261.9,338.2 260.0,338.6 259.0,338.0C258.0,337.5 256.9,335.4 256.9,334.2Z"/>
<path fill="#ffff00" d="M347.5,371.0C347.7,369.0 348.0,367.1 348.2,365.1C348.4,363.1 348.4,361.1 348.8,359.1C349.1,357.1 349.6,355.0 350.3,353.1C351.0,351.1 351.8,349.1 352.8,347.2C353.8,345.4 355.0,343.5 356.3,341.8C357.6,340.1 359.1,338.4 360.8,337.0C362.4,335.6 364.3,334.2 366.2,333.1C368.1,332.1 370.3,331.3 372.4,330.6C374.5,330.0 376.7,329.4 378.9,329.1C381.1,328.8 383.3,328.8 385.5,328.8C387.7,328.8 389.9,328.9 392.1,329.2C394.3,329.5 396.5,330.0 398.7,330.4C400.9,330.8 403.2,331.2 405.5,331.8C407.7,332.5 410.0,333.2 412.2,334.2C414.5,335.2 416.7,336.4 418.8,337.7C420.9,339.1 423.0,340.6 424.8,342.4C426.6,344.2 428.3,346.3 429.5,348.6C430.8,350.8 431.7,353.3 432.3,355.8C433.0,358.3 433.2,360.9 433.2,363.4C433.2,366.0 433.1,368.6 432.5,371.0C431.9,373.4 430.9,375.9 429.5,378.0C428.1,380.1 426.0,381.9 424.2,383.6C422.4,385.2 420.3,386.5 418.6,387.9C416.9,389.2 415.2,390.3 413.8,391.5C412.3,392.8 411.1,394.0 409.9,395.4C408.6,396.7 407.4,398.0 406.1,399.4C404.8,400.8 403.6,402.2 402.3,403.9C400.9,405.5 399.5,407.2 397.9,409.2C396.3,411.2 394.7,413.5 392.6,415.9C390.5,418.3 388.2,421.9 385.5,423.8C382.8,425.8 379.3,427.9 376.5,427.6C373.7,427.4 371.2,424.2 368.8,422.4C366.4,420.6 364.3,418.6 362.2,416.6C360.2,414.7 358.3,412.7 356.7,410.6C355.1,408.5 353.7,406.2 352.6,403.9C351.5,401.6 350.7,399.1 350.1,396.8C349.4,394.4 349.0,392.0 348.6,389.8C348.2,387.5 347.9,385.4 347.7,383.3C347.5,381.2 347.5,379.1 347.5,377.0C347.5,375.0 347.4,373.0 347.5,371.0Z"/>
<path fill="#9600c8" d="M371.6,267.5C372.1,265.2 375.4,261.9 378.3,258.9C381.2,255.9 385.5,252.9 389.0,249.7C392.6,246.5 396.2,242.8 399.8,239.9C403.4,237.0 406.7,234.2 410.5,232.2C414.3,230.3 418.7,228.9 422.8,228.2C426.9,227.6 430.9,227.5 435.0,228.2C439.1,229.0 443.5,230.8 447.3,232.8C451.1,234.9 455.1,237.4 458.0,240.5C461.0,243.6 463.5,247.7 465.1,251.2C466.6,254.8 467.2,258.4 467.2,262.0C467.2,265.5 466.6,269.7 465.1,272.7C463.5,275.7 461.0,277.9 458.0,279.7C455.1,281.6 451.1,283.0 447.3,284.0C443.5,285.1 439.6,285.7 435.0,285.9C430.4,286.0 425.3,285.6 419.7,285.0C414.1,284.3 406.9,283.4 401.3,282.2C395.7,281.0 390.3,279.5 386.0,277.9C381.6,276.3 377.7,274.4 375.3,272.7C372.9,271.0 371.1,269.8 371.6,267.5Z"/>
<path fill="#ffc800" d="M352.0,371.0C352.1,369.2 352.4,367.5 352.6,365.8C352.7,364.0 352.8,362.2 353.1,360.5C353.4,358.7 353.8,356.9 354.4,355.2C355.0,353.4 355.7,351.7 356.6,350.0C357.5,348.3 358.4,346.6 359.6,345.1C360.7,343.5 362.1,342.0 363.5,340.7C365.0,339.4 366.6,338.2 368.3,337.2C370.0,336.2 371.9,335.5 373.8,334.9C375.6,334.2 377.6,333.7 379.6,333.4C381.5,333.2 383.5,333.1 385.5,333.1C387.5,333.1 389.5,333.2 391.4,333.5C393.4,333.7 395.4,334.1 397.3,334.6C399.3,335.0 401.3,335.4 403.3,336.1C405.3,336.7 407.3,337.4 409.2,338.4C411.1,339.3 413.0,340.4 414.8,341.7C416.6,343.0 418.4,344.4 419.9,346.0C421.4,347.6 422.8,349.5 423.8,351.5C424.9,353.4 425.7,355.6 426.2,357.8C426.7,360.0 426.8,362.3 426.8,364.5C426.8,366.7 426.7,368.9 426.2,371.0C425.6,373.1 424.8,375.2 423.7,377.1C422.6,378.9 420.8,380.5 419.3,382.0C417.8,383.5 416.1,384.6 414.6,385.8C413.2,387.0 411.8,388.1 410.6,389.2C409.3,390.3 408.3,391.5 407.2,392.7C406.1,393.9 405.0,395.0 403.9,396.3C402.7,397.5 401.6,398.8 400.4,400.2C399.2,401.7 398.0,403.2 396.5,404.9C395.1,406.6 393.6,408.5 391.8,410.5C389.9,412.6 387.8,415.5 385.5,417.1C383.2,418.7 380.1,420.3 377.7,420.1C375.3,419.9 373.0,417.4 370.9,415.8C368.8,414.3 367.0,412.6 365.2,410.9C363.4,409.2 361.8,407.4 360.4,405.6C359.0,403.7 357.8,401.7 356.8,399.7C355.8,397.7 355.1,395.6 354.4,393.6C353.8,391.5 353.5,389.5 353.1,387.5C352.8,385.5 352.4,383.7 352.3,381.8C352.1,379.9 352.1,378.1 352.0,376.3C352.0,374.5 351.9,372.8 352.0,371.0Z"/>
<path fill="#c800c8" d="M396.4,265.0C396.4,262.0 400.4,257.6 402.8,254.3C405.3,251.0 408.1,247.8 411.1,245.1C414.2,242.4 417.5,239.6 421.2,238.1C425.0,236.5 429.4,235.5 433.5,235.6C437.6,235.8 442.2,237.1 445.8,239.0C449.3,240.8 452.7,243.6 455.0,246.6C457.3,249.7 459.0,253.8 459.6,257.4C460.1,260.9 459.3,265.0 458.0,268.1C456.7,271.2 454.7,273.8 451.9,275.8C449.1,277.7 445.0,279.1 441.2,279.7C437.3,280.4 433.2,280.2 428.9,279.7C424.6,279.3 419.5,278.5 415.1,277.3C410.8,276.1 406.0,274.7 402.8,272.7C399.7,270.7 396.4,268.1 396.4,265.0Z"/>
<path fill="#ffa000" d="M356.5,371.0C356.6,369.5 356.8,368.0 357.0,366.5C357.1,365.0 357.1,363.4 357.4,361.9C357.6,360.3 358.0,358.8 358.5,357.2C359.0,355.7 359.6,354.2 360.4,352.7C361.1,351.3 361.9,349.8 362.9,348.4C363.9,347.0 365.0,345.7 366.2,344.5C367.5,343.3 368.8,342.1 370.3,341.2C371.8,340.3 373.5,339.7 375.1,339.1C376.8,338.5 378.5,338.0 380.2,337.8C382.0,337.5 383.7,337.4 385.5,337.4C387.3,337.4 389.0,337.5 390.8,337.7C392.5,337.9 394.2,338.3 396.0,338.7C397.7,339.2 399.5,339.6 401.2,340.3C402.9,340.9 404.6,341.6 406.2,342.5C407.8,343.4 409.4,344.5 410.9,345.6C412.3,346.8 413.8,348.1 415.0,349.6C416.2,351.0 417.3,352.7 418.2,354.4C419.0,356.1 419.6,357.9 420.0,359.8C420.4,361.6 420.5,363.6 420.4,365.5C420.4,367.3 420.3,369.2 419.8,371.0C419.4,372.8 418.8,374.6 417.9,376.1C417.0,377.7 415.6,379.1 414.4,380.4C413.2,381.7 411.8,382.7 410.6,383.8C409.5,384.9 408.4,385.8 407.3,386.9C406.3,387.9 405.5,388.9 404.5,390.0C403.6,391.1 402.6,392.1 401.6,393.2C400.6,394.3 399.6,395.4 398.6,396.6C397.5,397.8 396.4,399.1 395.1,400.6C393.8,402.0 392.5,403.6 390.9,405.2C389.3,406.8 387.5,409.1 385.5,410.3C383.5,411.6 381.0,412.8 378.9,412.6C376.8,412.4 374.9,410.5 373.1,409.2C371.3,408.0 369.6,406.5 368.1,405.1C366.6,403.6 365.2,402.2 364.0,400.6C362.8,399.0 361.8,397.3 360.9,395.6C360.1,393.9 359.4,392.1 358.8,390.4C358.3,388.6 358.0,386.9 357.6,385.2C357.3,383.5 357.0,381.9 356.8,380.3C356.7,378.7 356.6,377.1 356.5,375.6C356.5,374.0 356.5,372.5 356.5,371.0Z"/>
<path fill="#960096" d="M432.0,243.6C434.3,242.0 439.6,242.5 442.7,243.6C445.8,244.7 448.6,247.5 450.4,250.3C452.2,253.1 453.4,257.2 453.4,260.4C453.4,263.7 452.2,267.3 450.4,269.6C448.6,271.9 445.8,273.7 442.7,274.2C439.6,274.7 434.5,274.2 432.0,272.7C429.4,271.2 427.9,268.4 427.4,265.0C426.9,261.7 428.1,256.3 428.9,252.8C429.7,249.2 429.7,245.1 432.0,243.6Z"/>
<path fill="#ff6400" d="M361.0,371.0C361.1,369.7 361.3,368.5 361.4,367.2C361.5,365.9 361.5,364.6 361.7,363.3C361.9,361.9 362.2,360.6 362.6,359.3C363.0,358.0 363.6,356.8 364.2,355.5C364.8,354.2 365.4,352.9 366.2,351.7C367.0,350.5 367.9,349.3 368.9,348.2C370.0,347.1 371.1,346.1 372.4,345.3C373.7,344.5 375.1,343.9 376.5,343.3C377.9,342.8 379.4,342.3 380.9,342.1C382.4,341.8 384.0,341.7 385.5,341.7C387.0,341.7 388.6,341.7 390.1,342.0C391.6,342.2 393.1,342.5 394.6,342.9C396.1,343.3 397.6,343.9 399.0,344.5C400.4,345.1 401.9,345.8 403.2,346.7C404.5,347.5 405.7,348.5 406.9,349.6C408.1,350.7 409.2,351.8 410.1,353.1C411.0,354.4 411.9,355.8 412.5,357.3C413.1,358.7 413.5,360.3 413.8,361.8C414.1,363.3 414.1,364.9 414.0,366.5C414.0,368.0 413.8,369.5 413.5,371.0C413.2,372.5 412.8,373.9 412.1,375.2C411.4,376.5 410.4,377.7 409.5,378.8C408.6,379.9 407.6,380.8 406.7,381.8C405.8,382.7 404.9,383.6 404.1,384.5C403.3,385.4 402.6,386.4 401.8,387.3C401.0,388.3 400.2,389.2 399.4,390.1C398.5,391.1 397.6,392.0 396.7,393.0C395.8,394.0 394.8,395.1 393.7,396.2C392.6,397.4 391.4,398.6 390.1,399.8C388.7,401.1 387.2,402.7 385.5,403.6C383.8,404.5 381.8,405.2 380.1,405.1C378.4,404.9 376.7,403.6 375.2,402.7C373.7,401.7 372.3,400.5 371.1,399.3C369.8,398.1 368.7,396.9 367.7,395.6C366.7,394.2 365.8,392.8 365.1,391.4C364.3,390.0 363.7,388.6 363.2,387.2C362.7,385.8 362.4,384.3 362.1,382.9C361.8,381.5 361.6,380.2 361.4,378.8C361.2,377.5 361.1,376.2 361.1,374.9C361.0,373.6 361.0,372.3 361.0,371.0Z"/>
<path fill="#ff3200" d="M365.5,371.0C365.6,370.0 365.7,368.9 365.8,367.9C365.8,366.8 365.8,365.7 366.0,364.7C366.1,363.6 366.4,362.5 366.7,361.4C367.0,360.3 367.5,359.3 367.9,358.2C368.4,357.2 368.9,356.0 369.5,355.0C370.1,353.9 370.8,352.9 371.6,351.9C372.5,351.0 373.4,350.1 374.5,349.3C375.5,348.6 376.7,348.1 377.9,347.6C379.1,347.1 380.3,346.6 381.6,346.4C382.9,346.1 384.2,346.0 385.5,346.0C386.8,346.0 388.1,346.0 389.4,346.2C390.7,346.4 392.0,346.7 393.3,347.1C394.5,347.5 395.7,348.1 396.9,348.7C398.0,349.3 399.2,350.0 400.2,350.8C401.2,351.6 402.1,352.6 402.9,353.6C403.8,354.5 404.6,355.6 405.2,356.7C405.8,357.8 406.4,359.0 406.8,360.1C407.2,361.3 407.5,362.6 407.6,363.8C407.8,365.0 407.7,366.3 407.7,367.5C407.6,368.7 407.4,369.9 407.2,371.0C407.0,372.1 406.7,373.3 406.3,374.3C405.9,375.3 405.3,376.3 404.7,377.2C404.1,378.1 403.3,378.9 402.7,379.8C402.1,380.6 401.5,381.4 400.9,382.2C400.3,383.0 399.8,383.8 399.2,384.7C398.5,385.5 397.9,386.3 397.1,387.0C396.4,387.8 395.7,388.5 394.8,389.3C394.0,390.2 393.2,391.1 392.3,391.9C391.4,392.8 390.3,393.6 389.2,394.5C388.1,395.3 386.8,396.4 385.5,396.9C384.2,397.4 382.6,397.7 381.3,397.6C379.9,397.4 378.6,396.8 377.4,396.1C376.1,395.4 375.0,394.5 374.0,393.5C373.0,392.6 372.1,391.6 371.3,390.5C370.5,389.5 369.8,388.4 369.2,387.3C368.6,386.2 368.1,385.1 367.6,384.0C367.2,382.9 366.9,381.7 366.6,380.6C366.3,379.5 366.1,378.4 366.0,377.3C365.8,376.3 365.6,375.2 365.6,374.2C365.5,373.1 365.5,372.0 365.5,371.0Z"/>
<path fill="#c80000" d="M370.0,371.0C370.0,370.2 370.1,369.4 370.2,368.6C370.2,367.7 370.2,366.9 370.3,366.0C370.4,365.2 370.5,364.3 370.8,363.5C371.0,362.7 371.4,361.9 371.7,361.0C372.1,360.1 372.3,359.2 372.8,358.3C373.2,357.4 373.7,356.5 374.4,355.7C375.0,354.8 375.7,354.0 376.5,353.4C377.3,352.7 378.3,352.3 379.3,351.8C380.2,351.4 381.2,350.9 382.3,350.7C383.3,350.4 384.4,350.3 385.5,350.3C386.6,350.2 387.7,350.3 388.8,350.4C389.8,350.6 390.9,350.9 391.9,351.3C392.9,351.7 393.8,352.3 394.7,352.9C395.6,353.5 396.4,354.2 397.2,355.0C397.9,355.7 398.5,356.6 399.0,357.5C399.5,358.4 399.9,359.3 400.3,360.2C400.7,361.2 400.9,362.1 401.1,363.0C401.3,364.0 401.4,364.9 401.4,365.8C401.5,366.7 401.4,367.6 401.3,368.5C401.2,369.4 401.0,370.2 400.9,371.0C400.7,371.8 400.7,372.6 400.5,373.4C400.3,374.1 400.1,374.9 399.8,375.6C399.5,376.4 399.1,377.0 398.7,377.7C398.4,378.4 398.0,379.1 397.7,379.8C397.3,380.5 396.9,381.3 396.5,382.0C396.0,382.7 395.5,383.3 394.9,383.9C394.3,384.6 393.7,385.1 393.0,385.7C392.3,386.3 391.7,387.0 390.9,387.6C390.1,388.1 389.3,388.7 388.4,389.1C387.5,389.5 386.5,390.0 385.5,390.1C384.5,390.3 383.5,390.2 382.5,390.1C381.5,389.9 380.4,389.9 379.5,389.5C378.6,389.1 377.7,388.4 377.0,387.8C376.2,387.1 375.5,386.3 374.9,385.5C374.4,384.7 373.9,383.9 373.4,383.1C372.9,382.3 372.4,381.6 372.0,380.8C371.7,380.0 371.4,379.2 371.1,378.3C370.9,377.5 370.7,376.7 370.5,375.9C370.4,375.0 370.2,374.3 370.1,373.4C370.0,372.6 370.0,371.8 370.0,371.0Z"/>
</g>
 <path d="M268.7,347.9L270.3,346.9L271.8,345.5L274.3,345.5L275.0,344.2L278.3,343.2L278.8,342.8L280.6,342.3L283.3,339.6L284.3,338.3L287.3,338.5L290.3,339.6L289.5,339.9L289.8,342.3L289.6,344.4L289.8,346.9L290.6,349.2L289.4,350.5L289.1,352.3L290.7,354.7L288.4,355.8L286.9,357.2L283.9,355.6L280.8,354.1L278.1,354.1L274.6,353.1L272.5,354.0L269.9,350.9L268.7,347.9Z M273.3,364.8L276.9,363.1L278.9,364.7L281.8,365.2L282.4,369.0L283.5,370.4L283.2,372.2L281.2,375.7L280.3,377.1L277.9,376.3L276.4,374.1L273.8,372.2L270.5,372.9L269.2,372.4L268.5,372.0L269.8,369.6L271.1,370.0L273.6,367.9L273.3,364.8Z M296.0,361.7L299.4,363.1L301.6,364.2L305.0,365.5L307.3,366.9L310.1,368.8L308.4,370.3L306.1,369.4L303.3,368.9L301.5,367.9L298.1,366.2L296.3,365.2L296.0,361.7Z M313.7,380.0L316.9,379.7L319.6,381.5L321.2,384.2L321.0,387.1L319.7,387.8L318.6,388.2L316.5,385.6L314.2,384.7L313.0,382.3L313.7,380.0Z" fill="#3a0a40" stroke="#3a0a40" stroke-width="1"/>
<path d="M152.4,91.2L154.0,89.3L156.4,87.9L158.1,89.1L159.1,90.0L159.5,91.9L160.0,93.4L161.0,96.8L160.9,97.8L162.2,101.1L162.5,102.2L162.0,103.1L160.5,105.0L157.0,103.9L155.1,104.2L153.8,102.2L153.7,100.1L152.5,97.9L151.0,96.0L151.5,94.3L152.4,91.2 M158.1,106.9L159.1,107.2 M160.9,107.4L161.9,107.7 M169.9,116.2L172.8,116.5L174.7,119.4L174.9,121.3L175.8,124.3L176.5,125.8L175.7,127.1L173.5,129.8L171.8,127.7L170.3,126.4L170.7,123.8L170.1,120.8L170.0,118.8L169.9,116.2 M164.1,130.1L164.6,130.9 M162.1,133.4L162.6,134.1 M160.9,135.9L161.4,136.6 M157.6,145.9L158.1,146.9 M157.1,149.6L157.6,150.6 M157.1,154.3L157.6,155.3 M158.4,157.1L158.9,157.8 M159.6,163.1L160.1,164.1 M160.9,165.8L161.4,166.6 M188.4,79.7L188.9,80.2 M190.8,80.5L191.3,81.0 M193.3,77.2L193.8,77.7 M188.6,112.4L188.0,115.1L186.1,116.4L184.4,118.4L184.6,120.8L184.2,122.0L182.7,125.2L181.5,127.3L181.3,129.2L181.6,132.2L182.2,133.2L181.8,136.2L180.4,137.3L181.8,139.9L182.9,141.8L181.7,142.8L181.6,145.5L185.2,145.5L185.5,148.1L186.9,146.7L188.8,144.4L188.3,146.6L189.6,148.7L193.2,150.2L191.1,152.6L193.3,151.8L195.6,153.3L196.8,155.0L197.1,155.9L197.9,158.2L199.0,159.1L199.1,161.7L199.0,164.0L197.4,166.1L196.6,168.3L195.2,171.7L198.2,169.8L199.4,169.5L202.1,166.6L204.8,167.6L206.0,166.0L207.2,165.7L209.5,166.4L211.4,167.7L211.0,170.6L210.9,171.1L209.9,172.7L207.4,175.7L208.0,177.0L206.9,178.3L204.9,179.7L203.6,180.3L200.8,176.8L200.4,180.7L198.6,181.0L196.7,181.5L193.7,179.8L192.1,177.7L190.2,180.7L188.2,180.2L186.9,177.2L184.4,175.7L183.8,172.7L181.9,170.6L179.3,168.8L178.8,171.5L178.0,172.3L177.0,174.7L175.4,176.3L178.1,178.4L179.1,179.8L180.5,182.8L182.7,184.1L185.7,184.6L187.2,188.1L186.5,189.2L187.9,191.7L188.7,194.7L186.7,196.6L190.7,197.6L189.2,199.3L188.4,200.2L189.4,203.3 M203.1,83.3L205.8,82.0L208.3,83.1L209.5,85.4L207.8,87.3L207.1,89.6L204.5,91.0L201.6,90.2L201.6,85.8L203.1,83.3 M188.2,107.8L189.9,108.0L191.8,106.7L193.5,105.2L194.7,103.7L195.2,103.1L197.3,99.9L199.6,98.7L200.2,97.3L202.4,96.5L203.3,94.8L206.2,92.5L208.0,91.5 M195.3,102.6L197.0,106.9 M207.5,91.5L209.4,92.7L211.8,92.9L213.0,93.8L215.0,93.3L217.1,92.1L218.4,90.7L220.1,88.3L221.0,85.0L220.8,84.1L220.8,80.4L219.1,78.8L217.8,77.0L216.7,76.3L216.8,75.2L213.9,73.5L213.1,71.0L211.7,71.0L208.3,69.6L206.5,67.5L205.8,67.4L202.5,66.0 M269.7,74.5L271.5,75.1L272.7,76.0L274.9,77.2L275.9,79.7L275.9,81.2L277.8,83.3L278.6,86.8L281.6,85.0L283.0,82.9L284.7,84.7L287.7,82.6L289.7,83.6L292.2,82.0L292.7,82.7L295.2,81.9L295.7,79.4L298.1,78.8L298.3,78.4L300.6,76.8L301.4,76.0L303.1,75.2L307.3,73.9 M157.6,153.1L158.2,156.4L158.2,157.5L159.3,159.7L159.3,161.7L159.8,163.8L161.0,165.7L162.5,167.3L162.7,168.8L165.5,169.6L166.8,168.5L169.3,168.5L169.3,171.4L169.6,172.8L168.4,175.4L166.3,177.7L164.6,178.6L164.1,181.0L162.4,182.3L162.1,183.5L160.5,184.5L158.8,185.6L157.8,188.2L156.9,188.7L155.4,191.5L155.8,192.7L153.7,193.5L152.9,195.6L151.9,197.3L151.6,201.5L155.0,202.8L155.7,206.0L156.5,206.8L156.7,208.6L158.9,210.1L159.7,211.3L161.4,213.3L164.4,215.6L165.1,216.6L166.4,218.6L166.1,222.6L167.0,224.6L167.6,226.7L166.4,227.8L166.8,229.5L167.0,232.4L166.4,234.8L168.3,236.5L168.4,238.9L167.8,240.4L168.8,243.0L169.2,245.0L168.6,247.2L169.0,248.9L168.3,249.7 M162.7,169.4L162.7,171.5L163.2,174.7L163.4,176.6L162.9,178.9L163.5,179.8L164.9,183.1L163.5,185.3L163.0,187.0L163.6,189.4L163.0,191.5L163.4,193.1L162.7,196.2L163.0,197.5L163.7,200.4L165.2,202.0L166.0,202.8L166.2,205.1L168.2,207.3L169.0,208.6L169.1,210.9L171.0,213.7L171.8,215.0L172.4,217.2L173.3,218.4L174.3,220.6L174.8,224.0L174.1,224.8L176.6,227.5L177.2,228.0L178.1,230.9L180.6,231.5L182.9,233.4L186.2,234.5L187.8,236.9L189.3,238.6L189.5,240.3L191.3,240.1L192.5,242.7L195.3,244.1L197.8,245.8L199.2,244.6 M188.2,150.0L190.4,152.1L195.0,149.9L198.2,150.4L198.8,151.7L198.6,153.9L200.4,156.3L198.9,158.0L198.4,159.4L197.7,162.9L197.1,165.1L196.0,165.9L197.0,167.8L197.2,171.3L201.2,170.0L202.3,169.1L204.4,167.5L205.5,165.5L207.1,165.2L209.1,166.1L210.3,165.5L212.5,168.7L210.2,170.2L208.3,171.9L208.5,174.1L205.9,175.2L204.7,178.4L202.0,180.0L200.0,179.3L201.0,176.1L202.3,175.4L199.4,172.9L197.9,175.8L196.1,176.9L194.9,178.7L194.5,181.4L192.8,181.5L190.1,179.7L188.0,177.3L186.4,175.7L187.0,173.9L185.2,173.2L184.8,170.9L181.7,169.0L179.9,168.3L179.9,171.1L180.7,171.1L180.3,173.9L182.8,175.0L183.3,175.7L184.0,178.9L185.8,180.3L187.1,180.7L186.5,182.1L190.3,184.0L191.3,185.9L191.1,187.8L191.0,189.2L190.5,191.4L190.6,193.7L191.1,194.6L189.9,196.6L190.5,199.4L188.6,200.3L188.3,203.3L186.5,204.2L185.4,205.3L184.0,208.7L184.4,211.6L184.4,213.3L183.5,214.9L185.0,217.8L184.5,218.6L185.5,221.8L186.1,223.1L187.2,226.4L187.1,226.8L188.0,229.6L189.6,230.9L190.8,233.5L191.3,234.3L193.5,236.2L194.6,237.7L194.9,240.4L196.4,242.1L198.1,242.1L199.0,243.9 M203.6,237.9L205.9,236.6L208.0,236.7L210.2,236.7L210.4,237.1L210.5,239.7L211.9,242.7L211.4,244.9L211.5,245.7L210.5,248.9L211.9,249.3L212.0,252.0L211.2,253.9L210.5,255.4L210.3,258.1L210.5,259.7L209.5,261.9L207.4,265.0L207.2,266.4L204.8,268.5L204.4,271.3L203.0,272.5L203.3,274.0 M203.6,237.9L202.4,241.5L201.0,242.2L198.6,243.6 M176.0,165.3L178.0,164.3 M160.7,165.3L162.3,166.3 M165.8,189.9L166.4,191.9 M162.7,198.0L163.7,199.0 M165.5,232.0L166.0,233.7 M166.4,237.8L166.8,239.4 M167.4,243.9L167.8,245.5 M168.0,248.8L168.4,250.4 M171.7,256.6L174.0,258.2L175.2,261.4L176.0,261.8L178.6,263.9L178.9,266.2L180.5,267.4L181.0,270.3L183.7,272.1L185.2,273.1L185.5,275.9L188.3,278.8L188.8,279.6L190.5,281.8L192.9,283.0L193.7,285.8L194.7,287.7L195.4,289.0L195.9,291.1L197.4,292.6L197.1,295.9L198.0,296.7L198.4,299.6L200.0,302.4L202.0,304.5L201.9,304.7L202.6,307.3L205.8,310.0L208.0,310.6L209.7,309.5L211.0,308.3L211.8,303.9 M175.8,265.8L178.4,265.7L180.0,266.1L182.3,266.0L183.5,266.3L185.4,268.0L188.2,267.5L189.4,269.7L191.1,269.4L192.9,271.7L194.4,272.2L194.8,275.0L196.8,276.7L196.4,277.1L197.6,278.5L200.1,280.7L201.1,281.9L203.0,284.7L203.9,287.7L206.6,289.6 M175.8,265.8L177.8,263.7 M177.8,231.0L179.5,232.8L180.4,233.9L183.3,232.5L184.5,234.8L186.3,235.6L186.6,237.4L189.4,238.6L190.2,239.7L192.6,241.3L192.9,241.5L195.0,243.4L197.0,243.6L197.6,245.7L199.6,243.4L201.0,243.1L202.0,240.8L203.1,239.0L206.1,238.0L208.2,235.6L210.9,237.6L209.9,240.9L211.0,242.8L211.2,245.5L211.5,246.8L210.9,250.0L212.2,253.2L210.5,254.7L210.3,256.6L208.8,258.2L208.5,261.4L206.7,262.2L207.0,264.6L204.9,264.6L205.2,267.6L203.3,267.5L203.1,269.7L202.0,273.1L202.9,273.8L203.9,275.5L204.8,279.7L207.0,281.5L205.6,284.0L205.8,286.0L205.4,287.8L206.8,291.0 M211.5,304.6L211.7,303.2L214.0,300.7L215.7,299.8L216.8,299.6L218.9,298.1L220.6,297.6L222.1,296.7L223.7,295.3L224.0,294.1L225.8,291.9L228.4,291.8L230.9,290.7L232.9,288.6L234.4,287.1L235.8,286.1L238.1,284.4L241.4,282.8L243.6,281.6L244.3,278.8L245.3,277.8L247.1,275.8L247.9,275.9L248.2,273.5L247.8,271.7L250.3,269.7L254.2,269.3L257.0,269.6L258.8,269.6L261.6,268.2L263.3,267.4L266.3,266.1L267.7,265.5L268.2,265.8L269.8,267.5L271.0,265.2L274.3,267.6L276.2,269.0L276.3,270.4L278.3,270.9L281.3,271.6 M275.9,273.9L277.6,276.1L278.1,278.7L278.8,279.9L281.3,279.9 M248.3,284.8L250.4,283.3L252.3,282.9L254.2,284.0L254.5,284.8L255.3,286.4L253.0,289.2L249.6,290.1L249.0,287.3L248.3,284.8 M250.2,292.9L250.6,294.2 M250.2,296.0L250.6,297.2 M220.7,297.4L220.9,298.3L223.0,300.4L224.8,303.3L225.2,305.1L225.1,307.8L222.9,310.0L222.1,311.5L221.3,313.4L220.9,314.3L219.9,316.3L218.0,318.7L217.2,318.8L215.9,321.2L215.3,323.5L212.4,320.5L210.7,318.1L212.7,314.5L210.8,312.7L209.3,311.1 M229.1,311.3L230.3,312.1L229.9,313.0L228.9,312.5L229.1,311.3 M187.0,344.4L187.7,343.0L190.9,340.7L191.6,340.6L194.2,339.6L196.8,337.2L197.9,335.9L198.5,335.4L200.8,333.6L202.5,334.9L205.8,336.2L208.9,335.2L209.0,333.0L210.0,331.4L212.3,330.6L214.9,328.7L218.0,328.7L220.8,328.0L224.3,327.1L226.4,328.4L229.2,328.6L230.6,329.3L231.0,330.7L233.4,333.0L235.0,333.4L236.7,334.9L236.6,338.0L238.3,339.7L239.1,341.9L239.4,343.4L240.5,345.1L240.5,347.4L241.3,349.2L241.0,351.8L241.1,354.4L241.5,354.8 M198.2,336.3L196.5,334.0L199.0,330.5L200.5,331.4 M168.6,315.8L169.0,317.5 M169.6,319.9L170.0,321.6 M170.7,324.0L171.1,325.6 M171.7,327.1L172.7,329.7 M173.7,331.2L174.7,333.2 M175.8,334.2L176.8,336.3 M177.8,337.3L179.2,340.0 M179.9,340.4L181.2,342.1L182.3,343.9L182.1,345.1L183.7,347.1L185.5,348.7L185.2,350.2L188.3,351.9L188.3,352.1L189.4,353.3L191.7,356.3 M187.0,344.4L185.6,347.5L184.2,346.1 M172.7,297.4L171.7,299.5 M168.6,307.7L169.6,310.7 M182.9,286.2L183.9,288.2 M197.8,323.0L198.5,323.6 M186.0,330.1L186.6,330.6 M207.4,325.0L208.1,325.6 M270.3,74.1L271.1,74.9L273.9,76.6L274.6,79.1L275.6,80.8L277.1,83.2L278.3,84.0L280.4,85.8L281.2,87.6L282.8,86.2L285.5,84.8L288.4,83.7L290.8,82.3L293.5,81.5L294.9,80.6L295.0,79.7L297.9,79.5L298.0,77.1L300.5,76.7L301.4,75.1L303.8,75.2L305.7,74.9 M357.2,74.1L356.5,75.6L357.0,78.2L355.7,80.5L355.4,82.8L356.3,84.8L355.9,86.1L355.2,88.2L355.8,89.7L354.8,91.6L352.6,94.1L355.9,95.5L357.0,94.2 M357.2,98.6L358.8,99.6L361.3,101.1L364.3,100.4L366.1,99.3L366.3,102.3L367.7,104.2L365.8,105.1L365.9,106.9L361.6,107.7L359.9,106.3L356.6,107.5 M385.0,122.1L387.4,123.8L388.5,123.5L390.0,125.2L391.9,126.3L392.9,127.7L395.6,130.2L395.5,132.1L397.1,133.1L400.2,135.9L400.7,136.8L400.8,138.7L402.2,136.9L404.2,135.6L405.3,133.9 M405.4,133.4L407.8,132.3L409.8,131.2L410.6,130.8L412.8,130.4L415.4,129.1L416.8,130.7L418.6,130.8L420.5,134.0L421.9,135.8L422.5,137.8L422.6,139.4L422.5,141.8L421.7,143.4L422.6,146.0L422.0,147.2L421.3,149.6L421.3,151.6L421.1,154.6L420.4,156.1L421.7,157.7L421.4,160.8L419.7,162.6L419.1,165.5L418.5,165.6L414.9,166.2L414.2,164.9L412.6,163.2L412.8,161.0L411.7,159.7L411.0,157.2L411.0,155.3L410.2,153.6L410.3,149.9L409.7,148.5L408.7,146.5L409.0,145.0L408.2,142.5L407.3,141.6L407.9,139.5L406.0,138.0L405.8,134.9L405.4,133.4 M404.4,136.4L407.0,135.9L408.4,135.1L410.6,135.5L413.3,134.6L416.2,136.0L417.6,136.1L418.8,137.8L420.3,140.2 M504.0,266.9L503.3,267.8L501.1,269.1L499.8,270.4L497.0,272.9L495.4,273.6L493.8,274.7L492.3,275.6L491.0,275.8L488.9,277.2L484.8,277.7L483.8,278.1L479.9,278.7L478.2,277.7L474.5,279.9L473.1,279.2L469.6,279.5L468.1,280.0L466.6,278.2L465.9,278.6L462.5,279.3L461.3,279.6L459.4,280.3L457.5,280.8L454.4,281.0L453.0,281.6L450.8,282.9 M504.0,266.9L505.5,268.1L506.3,269.6L508.1,271.2L509.4,273.0L510.8,275.4L512.3,277.7L512.7,279.4L514.9,280.6L516.6,282.8L517.4,283.4L519.8,284.1L520.6,286.5L520.9,287.8L523.4,289.8L524.1,291.2L525.5,292.4L527.2,293.6L526.5,296.7L525.5,299.2L525.2,300.5L525.0,303.6L523.9,305.6 M430.4,216.8L431.8,218.9L434.1,220.5L433.1,222.7L431.5,224.6L429.9,227.9L428.7,229.6L427.1,230.8L426.0,233.3L426.1,236.2L424.5,238.6L427.0,239.9L426.6,241.0L428.0,239.7L431.2,239.5L432.3,238.3L434.2,236.4L435.2,235.4L436.9,234.3L440.0,232.6L443.0,234.1L444.7,235.0L445.2,236.4L446.6,240.0L446.7,241.1L446.1,243.9L444.9,245.0 M422.3,235.2L422.6,237.1L423.3,239.1L424.6,242.1L423.2,243.5L422.8,244.7L423.8,247.6L424.7,249.1L423.8,250.6L425.5,253.3L427.7,254.0L428.2,254.9L430.2,254.1L430.8,252.7L432.1,252.4L433.8,251.3L435.3,250.2L436.9,247.6L441.1,249.0L442.1,250.5L441.9,253.0L442.1,255.2L441.1,255.9L439.4,258.5L437.5,260.5L435.6,262.1L434.9,261.9L432.1,264.6L432.0,265.1L429.6,268.3L427.8,270.6L427.3,271.2L426.1,274.1L425.2,276.4L423.7,278.6L423.0,280.4L422.5,282.0 M432.5,241.3L433.8,242.8L436.3,243.9L438.7,242.0L439.9,241.1 M436.6,245.4L439.6,246.4 M440.7,261.7L442.6,263.9L443.4,265.0L446.1,266.4L447.0,266.5L449.7,268.6L449.1,270.3L449.0,272.7L446.3,272.6L443.3,271.5L442.6,271.1 M450.9,282.2L450.4,284.9L448.0,286.9L447.9,288.5L445.9,288.9L444.4,289.4L442.0,289.1L439.9,286.5L438.7,286.8L435.0,287.7L434.8,288.4L432.7,290.7L431.4,291.9L430.0,294.9L429.9,296.4L427.7,299.1L428.6,299.8L428.0,302.8L428.3,303.9L427.3,305.9 M435.5,285.3L437.0,284.2L439.1,284.6L441.4,284.9L443.5,285.3L445.1,286.5 M410.0,228.0L412.3,229.5L412.0,231.7L414.6,232.5L415.3,234.9L416.2,236.4L416.3,240.2L418.5,241.3L418.6,242.9L419.7,245.3L420.3,247.9L420.5,250.3L419.8,250.7L419.3,253.0L418.8,254.8L419.3,258.3L418.8,260.5L419.3,261.0L418.4,263.6L417.2,266.7L417.1,268.0L417.4,270.7L417.8,271.8L417.7,273.4L419.0,276.9L417.0,277.3L416.4,279.9L416.9,282.9L416.4,283.4L416.0,286.7L415.4,289.2L415.0,289.7L416.9,293.2L417.5,294.1L418.0,297.0L417.8,298.2L418.8,299.9L419.7,302.5L419.7,305.0 M450.9,282.2L451.5,283.4L451.9,285.7L451.1,289.1L451.7,291.1L453.2,293.1L452.3,294.4L452.5,297.3L454.2,298.8L453.9,300.3L454.5,303.1L454.2,305.0 M430.4,213.7L432.0,213.4L434.9,214.8L434.9,218.5L432.1,218.7L431.2,216.7L431.7,215.1L430.4,213.7 M432.5,295.0L432.5,297.8L432.5,299.9L432.7,301.8L434.3,303.2L434.5,305.9L433.5,307.7L433.2,311.2L433.8,313.1L431.3,314.0L432.0,315.7L430.8,318.1L431.1,320.0L430.6,323.0L429.2,324.8L430.6,327.7L429.6,329.6L431.0,331.3L430.6,333.2L431.4,335.3L433.9,335.3L434.1,333.9L436.4,333.4L437.5,331.9L439.8,331.8L443.3,333.0L443.7,333.0L446.2,334.7L448.2,334.6L450.4,335.6L452.2,337.3L453.3,336.6L454.7,335.6L455.2,333.4L456.0,332.0L458.8,329.5L459.0,328.5L458.4,326.5L459.4,324.7L458.4,323.0L459.2,321.2L457.9,318.9L459.9,315.9L460.3,317.6L462.9,318.5L465.2,317.5L468.3,315.2L472.2,314.9L471.6,316.8L472.5,320.1L473.5,321.9L476.1,324.1L476.2,326.9L478.6,328.8L480.3,330.1L481.4,333.2L480.7,334.2L482.1,337.2L482.4,338.9L483.8,340.3L485.4,343.1L487.0,344.2 M456.6,331.4L458.8,331.5L460.7,333.6L462.5,334.7L464.6,336.6L465.0,339.1L467.2,339.1L467.8,340.1L469.7,342.8L471.9,344.2L473.9,345.1L474.6,345.5L477.8,347.8L478.0,348.4L480.2,350.3L481.6,351.9L482.4,354.5L482.7,355.7L486.0,358.9L487.4,360.6L488.6,362.5L490.1,362.3L491.0,364.1L492.6,365.6L493.9,368.3L495.5,368.6L496.9,370.5L499.2,371.8L499.6,373.9L500.8,375.4L503.8,376.8L504.1,377.7L506.1,378.2L507.4,379.2L509.3,378.6L510.8,377.3L512.5,378.4L515.9,379.0L517.4,379.3L518.8,379.6L521.3,380.6L523.6,381.8L524.8,382.3L526.3,383.7L528.3,384.7L529.4,385.1L532.6,385.7L533.7,387.0 M410.0,315.4L411.1,317.3L412.7,318.0L413.5,318.7L415.8,321.5L415.9,319.8L418.1,318.9L419.0,316.5L422.1,315.9L423.7,314.1L426.1,314.4L428.6,314.4L431.0,314.4 M479.5,359.4L482.0,361.9L481.0,363.4 M480.5,366.5L481.5,368.6 M478.5,371.6L480.5,372.7 M476.4,373.7L477.4,374.7 M462.1,365.5L462.7,366.9 M435.3,382.9L436.0,383.5 M438.4,383.3L439.0,383.7 M429.4,388.0L430.4,390.0 M422.1,394.9L422.7,395.3 M517.3,410.5L519.3,411.5 M514.0,415.4L514.6,415.8 M512.0,417.4L512.6,417.8 M330.0,262.7L333.1,262.2L334.3,262.9L335.0,264.4L334.4,267.2L333.5,269.6L334.5,270.8L335.8,273.8L335.9,275.2L336.0,277.5L336.1,279.4L335.1,282.0L335.9,283.4L337.5,286.1L338.3,286.7L339.1,287.7L340.3,289.5L342.4,290.0L344.8,291.3L346.4,293.1L348.3,292.4L349.1,294.1L350.1,292.9L352.9,294.2L355.3,295.1L356.3,296.0L358.1,295.5L360.1,295.8L361.3,297.0L363.0,298.5L365.4,300.4L366.9,301.9L369.2,302.6L371.3,303.6L373.8,302.5L374.6,302.3L377.3,301.4L378.2,301.8L380.2,299.1L382.5,297.4L380.0,293.5L378.0,293.7L376.1,294.6L374.5,294.1L371.4,294.3L370.3,295.1L366.2,294.5L365.3,297.9 M397.4,225.0L394.6,226.8L392.9,225.5L390.3,227.3L387.9,227.5L385.2,227.3L384.9,228.7L382.9,228.8L380.8,232.1L380.8,234.9L381.7,238.2L382.7,239.3L382.8,241.0L384.3,243.1L383.6,245.4L383.5,248.8L382.8,251.0L380.5,251.3L380.4,253.6L379.4,255.4L377.6,257.0L376.6,259.9L376.6,260.6L375.9,262.9L374.7,266.0L375.3,268.7L374.6,270.8L374.2,272.4L375.4,276.4L375.2,278.3L377.0,279.0L377.9,281.5L379.0,282.7L380.3,282.6L383.0,283.2L384.0,285.7L386.0,286.8L387.4,286.6L389.3,287.5L392.2,288.6L393.2,289.1L394.4,290.9L395.5,291.7L395.5,294.8L396.3,295.5L396.5,297.3L397.0,298.6L399.1,300.5L399.5,302.5L401.1,302.5L404.2,303.2L406.1,306.2L407.2,306.7L406.8,309.5L406.4,311.7L405.7,313.4 M397.4,225.0L398.0,226.3L398.5,227.8L399.6,229.8L400.4,233.0L399.8,235.1L399.8,237.6L399.9,240.1L400.1,242.6L400.5,244.8L403.4,246.3L405.5,244.8L406.9,243.5L409.1,243.2L412.0,244.6 M429.0,288.1L429.6,286.9L431.4,285.4L433.0,283.8L434.8,283.2L436.2,285.0L438.2,285.3L441.1,286.4L442.8,287.0L443.2,285.5L444.8,285.8L446.8,286.9L444.6,288.4L443.4,288.5L441.9,288.2L439.7,287.5L437.1,288.4L436.4,287.6 M427.2,292.4L427.7,293.4L429.3,295.4L430.4,297.5L430.8,299.1L432.7,300.6L434.0,303.1L436.4,304.3L438.5,306.8L437.0,306.9L436.6,309.6L434.7,310.0L434.9,312.8L433.0,314.3L432.7,317.5L432.4,319.9L432.9,320.6L432.4,323.8L432.1,327.2L430.9,327.9L431.8,330.6L431.5,333.1 M375.6,312.6L377.3,314.3 M379.1,316.1L381.2,317.6L382.8,317.8L383.5,317.3L385.9,316.1L389.5,313.7L391.8,315.3L393.0,318.0L393.5,318.8L397.4,320.7L399.3,319.2L401.0,317.6L404.3,315.6L405.0,313.7L406.6,312.9L406.2,310.4L407.1,309.0 M399.2,310.8L402.6,308.8L404.1,310.7L406.4,309.2L409.4,311.4L411.6,313.9L411.3,315.5L412.5,316.9L413.7,319.3L413.4,320.1L415.6,322.6L416.8,320.1L418.8,318.2L421.9,315.4L423.4,315.6L425.2,314.6L426.5,313.9L429.9,314.8L430.0,314.3L433.4,313.6 M382.6,317.9L382.3,319.6L383.3,320.8L384.8,321.8L386.8,324.2L388.0,325.6L389.8,325.3L390.4,323.8L391.3,323.6L394.6,320.1 M389.6,325.7L390.3,327.3L392.8,329.1L393.3,329.8L396.3,330.6L397.1,328.7L399.8,328.0L400.3,327.1L401.6,326.3L403.1,322.3L404.1,321.6L405.0,320.0 M395.7,322.2L398.2,325.7L399.2,324.0 M331.8,262.7L330.7,264.1L331.0,265.4L333.0,267.3 M347.5,262.7L348.4,266.2 M302.6,321.5L304.5,321.3L305.9,318.6L308.6,318.1L311.1,317.1L314.4,320.1L316.4,320.3L317.5,321.8L320.0,322.3L321.7,323.4L324.3,325.1L326.8,324.9L327.7,326.5L330.3,327.3L331.1,328.4L332.9,330.6L335.6,332.9L336.9,334.6L338.6,335.5L339.9,336.0L340.7,339.0L341.0,341.0L342.7,343.4L342.7,345.6L342.6,349.2L342.6,350.5L344.3,353.6L343.7,356.5L344.9,358.1L345.7,359.7L346.6,361.1L346.8,362.8L349.2,365.5L348.9,368.1L350.1,368.8L351.5,370.9L352.2,373.3L349.1,375.3L346.8,375.4L345.6,374.9L343.3,374.3L341.3,375.3L339.4,374.0L337.8,371.9L336.6,371.9L333.5,371.1L332.5,368.9L332.0,368.6L330.1,366.3L328.6,364.6L326.1,363.6L324.2,362.5L323.0,360.4L322.3,359.1L321.1,358.5L319.6,357.3L318.1,356.9L315.2,355.6L314.0,354.6L313.1,353.7L310.6,351.9L310.1,351.9L307.0,349.2L303.8,348.3L300.6,348.6L297.8,346.7L298.3,343.5L296.9,341.8L298.6,340.0L297.8,336.9L298.3,336.3L298.9,333.8L299.6,332.0L300.3,329.0L301.7,327.7L301.9,326.1L302.8,322.6L302.6,321.5 M352.6,333.7L353.6,332.9L355.2,329.8L357.2,330.2L360.1,331.5L360.0,333.1L361.0,335.6L360.2,338.0L358.0,339.5L356.7,341.6L355.9,341.1L352.0,340.6L351.5,337.9L351.9,335.5L352.6,333.7 M311.7,300.0L312.5,300.7L313.7,303.9L315.0,302.9L318.2,303.7L319.0,303.1L320.5,302.2L322.0,300.8 M314.8,301.0L318.9,301.6 M297.4,330.7L296.8,330.8L294.5,333.2L293.5,334.7L291.6,336.0L289.5,336.4L288.8,338.5L287.5,339.2L284.8,340.3L282.5,340.9L279.3,341.6L277.6,342.7L275.2,343.6L273.6,346.9L276.0,347.8L278.6,346.5L281.8,345.3L284.3,345.6L288.2,343.8L291.4,342.6L293.8,343.2L296.1,341.6L297.3,339.9L298.2,337.5L299.2,334.9L297.2,332.1L297.4,330.7 M263.7,346.0L265.0,345.5L266.7,344.6L268.1,344.4L271.6,344.6L272.0,345.1L273.3,346.6L273.3,349.6L269.7,350.6L267.0,352.8L265.0,349.5L264.7,348.9L263.7,346.0 M273.9,351.1L276.5,351.3L277.7,349.4L279.5,350.6L282.8,351.3L283.9,352.1L283.8,354.6L283.4,355.5L282.4,356.9L279.3,357.6L277.2,358.5L276.2,357.2L275.1,355.8L274.4,352.8L273.9,351.1 M285.2,349.0L288.1,347.7L289.5,348.4L291.0,348.3L292.7,349.4L294.3,351.4L294.9,354.0L292.9,355.9L291.4,357.5L289.5,357.4L287.7,357.8L286.6,357.2L285.7,354.8L285.7,354.0L285.1,350.7L285.2,349.0 M278.0,359.3L279.9,358.9L283.1,360.6L285.7,360.6L288.1,360.8L289.7,360.1L290.5,359.6L292.6,360.8L295.5,360.7L297.2,364.1L293.7,364.8L292.8,367.2L289.7,365.1L288.7,364.9L287.1,365.9L284.4,366.1L282.7,365.8L279.8,366.1L278.3,364.3L277.2,362.6L278.0,359.3 M266.8,346.0L268.0,347.1L270.7,348.8L269.6,350.3 M276.0,352.1L277.5,352.7L279.6,354.0L278.6,356.3 M287.2,350.1L289.7,351.4L290.9,353.0L289.8,355.3 M281.1,361.3L282.2,362.6L285.2,362.3L286.7,363.9L288.4,362.8L291.3,363.7 M279.0,342.9L280.5,343.5L283.3,343.2L286.3,342.6L287.2,341.6L289.0,340.4L293.0,338.3 M265.8,353.1L268.5,354.5L269.5,353.3L272.2,354.4 M270.9,357.2L271.5,359.0L273.3,359.7L276.3,358.3 M254.5,354.2L256.9,351.9L258.3,351.8L261.0,352.3L263.6,351.3L263.2,354.2L265.1,354.3L264.2,356.7L263.6,358.6L261.3,361.2L260.3,362.0L256.9,360.3L255.9,358.6L255.0,357.6L254.5,354.2 M259.6,361.3L261.7,360.6L263.5,361.3L266.0,362.1L266.3,364.2L268.5,365.8L268.4,366.9L267.4,368.2L266.0,370.5L264.6,370.6L262.5,369.6L262.0,369.3L260.7,367.5L260.0,365.2L259.6,361.3 M296.4,361.3L298.3,360.5L300.4,361.1L302.3,360.6L304.4,360.7L307.5,361.4L308.9,364.1L309.8,365.1L311.5,366.0L312.7,367.3L315.4,370.0L316.6,370.2L317.2,372.2L318.1,374.7L318.6,377.5L318.5,379.1L320.6,380.7L319.6,383.7L318.4,385.0L316.3,385.6L314.7,384.6L312.8,384.0L312.1,381.9L311.0,380.8L309.2,379.4L308.3,378.4L307.1,377.0L305.7,375.6L303.6,374.0L303.3,373.6L301.1,372.6L300.1,371.1L297.4,371.1L296.3,369.7L296.0,368.7L295.0,365.6L294.8,365.3L296.3,362.3L296.4,361.3 M299.5,365.4L300.8,365.7L304.1,366.5L305.5,366.7L307.5,369.4L309.5,369.9L310.7,372.1L312.2,372.9L313.1,375.4L310.8,376.2L309.0,375.3L307.4,373.7L305.6,373.7L303.8,372.0L303.5,371.1L301.2,370.0L300.1,367.7L299.5,365.4 M230.0,330.7L231.0,332.6L233.6,335.0L233.9,336.0L235.0,338.6L236.5,340.5L236.7,342.9L238.2,344.2L238.2,346.4L240.0,347.5L241.1,350.1L241.0,351.7L242.0,352.4L244.1,354.3L245.0,355.9L247.1,357.7L247.5,358.9L250.4,360.2L252.6,361.7L253.5,364.1L254.4,365.4L255.6,368.0L256.9,369.4L257.4,369.7L258.9,372.1L260.1,374.1L260.5,374.1L261.9,376.2L265.0,373.9L269.3,375.7L270.1,373.9L274.3,374.6L276.2,376.0L279.9,374.7L283.0,377.2L283.8,377.5L283.9,379.7L283.8,382.6L284.8,383.4L283.8,385.4L283.8,388.0L282.1,389.8L280.3,391.6L280.7,394.6L279.7,395.6L278.0,397.8L278.1,400.9L278.0,403.7L278.2,406.0L279.6,407.8L280.8,410.5L280.8,411.0L283.2,412.2L284.8,413.1L285.8,415.0 M286.2,387.9L287.4,389.8L289.8,391.1L290.7,392.8L292.2,393.7L294.6,393.9L297.2,394.2L299.1,395.3L299.7,397.0L301.3,399.2L302.1,400.7L302.9,402.5L302.7,403.7L304.2,405.6L305.3,407.8L304.9,409.6L307.2,412.7L307.5,413.7L306.7,416.2L307.0,416.9L304.8,419.4L303.8,421.2L303.7,422.7L303.7,425.4 M300.5,399.1L299.6,400.0L299.2,401.9L301.1,403.6 M291.3,381.7L293.9,382.1L295.2,379.9L297.2,382.0L299.0,382.9L299.8,384.2L301.9,385.7L300.8,386.7L300.1,388.2L298.2,390.3L296.2,390.0L293.5,388.6L292.8,387.9L292.8,385.1L291.6,384.4L291.3,381.7 M284.2,379.7L286.5,380.1L287.8,383.0L289.9,383.3L289.0,384.5L287.4,387.7L285.9,388.7 M319.9,380.7L320.9,381.6L321.0,384.0L321.5,386.3L320.9,388.9L320.6,390.2L322.1,392.3L323.1,395.6L324.7,396.5L325.2,398.1L327.4,399.4L329.5,400.3L331.4,401.5L333.5,402.6L334.1,405.5L336.0,406.9L338.5,407.8L338.7,408.6L341.6,409.7L342.4,411.4L343.2,412.3L344.9,413.5L347.0,414.7L348.0,416.3L347.5,417.9L347.0,421.2L349.1,420.3L349.7,419.3L352.1,418.0L353.8,416.8L354.7,415.9L356.1,414.0L357.9,413.7L360.8,413.1L363.0,413.7L364.0,415.0L365.1,417.5L366.3,417.7L364.4,420.2L364.7,420.8L361.0,423.0L359.8,423.9L358.3,425.6 M316.9,385.8L318.1,387.5L318.7,390.8L318.7,392.2L319.5,395.5L321.3,395.9L321.7,397.5L320.4,400.7 M335.3,425.7L336.0,425.0L338.2,423.1L340.3,421.6L343.9,423.4L345.4,421.8L346.0,420.8 M341.4,320.4L342.2,321.3 M173.5,330.0L174.8,332.2L174.1,333.8L175.3,334.5L177.9,337.5L179.1,338.5L181.2,341.5L183.4,342.7L184.8,344.3L185.9,345.2L187.9,347.4L189.5,348.0L191.2,349.5L192.7,349.7L194.3,352.5L194.5,354.1L197.5,354.0L200.0,353.8L202.1,354.9L205.5,353.9L208.1,355.0L210.3,356.4L212.1,358.2L212.2,358.9L213.6,362.3L213.9,363.9L215.6,366.3L214.8,367.8L215.6,369.2L218.0,371.8L218.7,373.9L218.7,376.0L219.2,379.7L219.2,381.2L217.7,383.7L218.3,386.6L217.7,389.8L216.2,392.2L215.6,395.0L215.5,396.5L216.6,399.2L215.6,402.7L216.6,405.3L216.5,407.2L217.9,409.7L218.1,411.2L218.0,413.2L217.0,415.4L215.8,419.7L215.3,421.5L213.9,422.7L212.1,424.6L212.0,426.1L209.6,428.4L209.0,429.4L206.0,430.9L205.1,433.0L203.4,434.0L202.4,435.0L201.1,437.6L200.8,439.3L199.3,442.2L198.3,444.0L198.9,445.6L197.9,448.0L198.7,450.0L198.5,450.8L198.2,453.0L199.9,456.4 M211.3,393.4L210.3,395.6L210.8,396.6L210.1,399.9L210.9,401.1L211.4,403.2L211.4,405.5L212.0,407.9L211.6,410.0L210.7,412.6L211.8,414.1L211.5,415.2L212.5,418.5L213.6,420.2L213.1,423.0 M220.5,376.0L219.5,381.1 M213.4,391.3L213.8,392.5L213.3,394.3L212.3,395.9L212.0,398.3L213.5,401.3L212.5,402.2L214.2,404.1L212.9,406.5L212.4,408.3L212.8,410.5L214.3,412.4L213.4,415.6L214.3,417.5L215.1,419.4L215.1,420.3 M215.0,381.1L215.1,382.8L214.5,385.0L214.5,386.1L213.5,389.0L214.1,390.2L214.5,392.6L215.1,394.6L214.9,397.6L213.8,400.3L213.3,401.1 M197.0,333.1L199.3,332.1L202.1,333.9L203.0,335.7L204.5,335.3L207.5,337.0L209.5,335.5L211.8,333.9L214.1,333.5L215.1,331.9L218.0,332.3L218.9,333.7L220.6,331.6L221.8,330.7 M197.0,333.1L195.8,335.3L195.2,338.0L197.0,340.9L198.3,342.4L197.3,344.4L196.6,347.0L196.5,348.5L194.3,349.7L193.4,351.5 M230.7,330.0L232.5,332.8L233.2,334.7L234.1,336.8L233.8,338.5L235.5,340.4L235.4,341.5L236.7,344.9L236.8,345.8L237.4,347.7L239.2,352.3L240.5,353.3L241.3,354.8L243.1,356.8L243.1,358.8L245.4,359.2L247.3,360.6L250.2,362.7L251.4,364.3L253.5,364.8L256.5,366.5L258.0,368.4L259.9,370.4L261.4,372.0L264.0,373.0L264.1,375.0L265.6,376.0 M190.9,349.4L191.8,350.3L193.2,353.2L194.1,354.3L196.0,355.5L197.5,356.8L201.5,356.4L204.0,355.2L206.1,355.1L207.2,355.5 M199.4,440.0L198.9,442.4L198.8,444.0L197.7,445.6L197.4,447.8L196.6,450.6L196.8,452.2L196.1,454.7L195.9,455.9L196.5,458.8L197.1,460.9L196.9,463.2L196.3,464.9L195.9,466.0L196.5,469.3L198.8,470.9L199.0,472.4L199.3,475.5L201.3,477.5L200.1,479.8L201.2,483.6L201.7,484.9L200.1,486.3L199.8,489.5L200.0,492.0L200.5,493.7L199.4,495.8L199.8,496.5L201.6,499.3L201.6,500.9L202.0,504.1L203.9,506.2L205.0,507.3L205.3,509.3L206.1,512.1L205.6,512.4L206.4,515.1L207.4,515.8L209.2,519.2L209.6,519.9L212.4,522.8L211.2,520.4L212.5,519.4L211.4,516.4L210.1,513.1L211.0,511.3L209.3,509.7L209.0,506.9L209.2,505.6L209.2,503.7L208.5,500.5L208.7,498.5L207.9,497.0L207.9,495.6L206.8,493.4L207.3,491.0L205.9,489.8L206.5,485.7L205.7,484.8L208.1,482.7L210.2,485.0L210.9,486.4L210.0,487.8L211.9,491.6L210.4,492.3L211.0,496.0L211.2,497.5L212.9,499.5L213.4,500.9L212.5,502.5L214.3,504.7L215.3,507.8L214.6,510.0L215.2,511.2L215.8,513.4L217.9,515.3L217.0,516.9L218.7,518.6L219.2,519.9L220.1,521.9L219.8,522.3L221.4,524.4L221.9,526.5L223.4,529.1L224.0,533.0L223.9,534.4L223.9,537.1L223.2,539.4L225.0,542.3L224.7,543.5L226.9,546.9L228.7,547.6L229.3,549.8L231.6,551.4L233.1,554.3L235.3,554.0L235.7,555.5L238.6,557.7L240.3,559.0L242.2,560.8L244.6,562.6L246.8,563.6L249.2,565.0L250.9,564.8 M259.7,521.7L260.5,519.8L260.6,517.3L261.2,515.4L262.7,512.9L263.9,511.2L265.6,510.2L267.2,509.4L270.8,508.7L272.7,509.4L274.6,510.4L276.5,509.1L277.6,509.3L279.3,508.5L282.9,509.2L283.9,509.0L286.8,509.2L288.8,507.5L289.7,507.0L292.1,506.1L294.2,505.5L297.3,504.8L298.6,505.7L300.6,506.7L302.5,507.2L305.0,508.3L306.0,507.9L307.9,510.7L308.9,511.1L311.2,514.5L311.2,515.5L313.2,518.0L314.3,520.2L314.9,520.8L316.1,523.1L318.5,523.4L321.9,525.1 M259.7,521.7L259.2,523.7L258.5,525.5L257.3,526.1L256.1,528.5L255.8,531.3L255.3,534.0L256.9,536.4L255.6,538.6L256.0,539.4L256.8,542.0L258.0,544.1L258.8,545.2L259.8,547.4L260.3,548.5L261.8,550.9L263.4,554.0L265.1,554.0L266.0,554.9L270.1,555.4L272.3,556.6L274.8,555.4L276.4,554.7L280.0,554.2L281.4,553.6L282.2,551.1L283.4,551.0L284.1,549.2L285.0,546.7L285.6,545.3L286.8,543.0L289.4,542.0L290.9,542.7L293.0,541.8L295.9,541.3L298.0,541.7L298.5,544.0L299.2,546.2L298.9,547.5L297.8,551.0L296.0,551.6L295.4,553.8L294.4,556.9L292.7,557.8L292.7,560.0L291.5,562.5L290.7,564.9 M306.7,538.1L308.0,536.5L310.6,535.1L311.0,533.5L314.3,533.1L316.6,533.3L318.6,531.3L321.8,532.4 M306.7,538.1L308.3,539.6L310.9,538.6L311.1,537.7L315.6,537.0 M304.7,461.5L306.1,459.2L306.6,458.1L308.2,457.2L310.5,454.6L313.7,453.8L314.3,451.4L317.2,451.3L318.1,450.2L321.5,449.3 M304.7,461.5L303.7,459.4L303.8,457.6L302.5,455.9L303.4,453.7 M321.0,491.1L319.6,492.4L317.7,493.6L315.4,496.4L315.6,497.5L314.2,499.5L314.4,501.7L314.6,505.3L316.1,508.2L316.8,509.8L317.1,512.3L319.0,513.0L321.0,515.4 M190.8,486.6L191.6,487.4 M198.4,538.1L199.2,538.9 M219.9,532.6L220.7,533.4 M313.9,539.5L314.7,540.3 M202.5,486.0L202.7,488.7L203.2,489.1L203.8,490.8L204.4,493.1L203.4,496.0L203.9,497.1L204.2,499.6L204.2,501.1L205.0,503.9L205.3,505.6 M302.5,400.0L302.7,401.6L304.0,403.8L303.9,404.6L304.2,408.0L304.6,408.5L305.6,411.4L305.2,413.5L304.9,415.8L306.3,418.3L305.4,421.6L305.2,424.2L306.6,425.1L307.4,427.4L307.4,430.4 M299.4,416.3L299.4,417.2L300.4,419.4L302.3,422.1L302.0,423.6L303.5,426.1L304.5,427.1L304.9,428.2 M280.0,412.3L282.3,411.9L284.6,412.0L287.0,411.2L287.4,413.0L290.3,413.2L292.6,414.9L293.8,415.6L296.4,416.7L298.6,416.8 M341.3,436.8L340.5,438.8L339.6,441.4L337.7,442.5L338.2,444.7L337.5,445.4L337.5,449.1L335.7,451.0L336.5,452.6L335.0,456.0L334.9,456.2L333.6,458.0L331.9,459.7L329.4,459.8L328.5,461.9L327.2,463.7L326.8,466.3L325.2,468.6L325.8,470.6L323.7,472.9L324.3,474.0L324.9,475.8L326.8,477.6L327.8,480.5L328.5,482.4L328.3,484.0L326.9,486.2L324.4,487.3L323.1,488.0L322.5,490.1L321.0,492.1L319.0,492.4L316.9,494.6L317.2,495.6L315.5,497.2L315.2,500.5L315.4,501.7L316.4,504.6L318.7,505.4L318.1,509.1L320.7,509.7L320.6,512.4L321.1,514.8L321.9,517.1L321.1,519.3L321.3,521.9L321.1,526.0 M326.0,467.4L324.5,470.0L324.4,471.2L324.6,473.2L326.1,476.1L326.2,477.0L329.0,479.1 M327.4,465.4L325.4,470.5 M329.0,433.7L331.0,431.7L332.7,431.2L332.9,429.3L334.6,428.0L337.3,426.6L337.8,423.8L340.1,423.6L340.7,421.9L343.5,420.8L345.6,420.0L346.5,419.3L348.5,418.8L348.6,417.3L350.0,415.0L350.2,413.6L349.7,412.0L350.0,409.4L351.8,407.7L350.4,405.6L351.0,404.7L349.9,403.4L349.0,400.7L345.1,400.4 M329.0,433.7L327.7,436.0L327.3,437.0L329.1,438.7L330.8,441.6L331.0,443.4 M350.5,415.3L351.9,414.8L354.6,414.1L357.0,413.8L359.2,412.6L361.0,414.1L363.3,414.9L365.1,415.8L365.5,419.4L364.7,420.9L362.5,421.4L361.5,422.8L358.9,421.8L356.6,422.9L354.2,422.1L352.4,422.2L349.8,418.3L350.5,415.3 M343.4,433.7L344.1,433.2L346.9,431.6L347.2,430.5L348.8,430.5L351.7,428.2L355.1,430.0L352.9,431.4L351.9,433.8L351.6,434.7L348.9,437.3L347.8,437.5L345.7,438.4L345.2,439.2L341.9,438.2L343.6,436.5L343.4,433.7 M341.3,422.5L342.5,424.1L343.3,427.0L345.3,426.9L345.9,429.4L348.8,428.2 M333.1,400.0L334.4,401.1L335.8,403.0L338.6,404.0L339.9,405.8L339.7,408.1L341.0,408.6L344.2,408.8L346.1,406.8L345.5,405.6 M280.0,507.3L282.2,507.5L284.9,506.0L286.8,506.3L287.8,505.0L290.0,505.5L292.0,505.6L293.8,506.5L296.2,505.5L299.1,505.2L300.0,505.0L303.0,506.1L304.9,506.7L306.6,507.4L307.9,509.1L309.7,510.7L310.7,513.1L312.3,515.2L313.3,518.1L314.4,518.9L315.5,522.0L316.1,523.9L316.0,526.4 M286.1,506.3L286.5,509.3 M327.0,516.5L330.2,517.4L330.8,519.6L332.6,521.2 M330.1,522.6L333.1,523.6 M364.8,480.7L365.6,481.5 M306.7,537.8L307.9,536.2L309.6,534.4L311.4,532.9L314.5,532.6L315.5,531.7L318.9,531.2L320.5,531.9L323.2,533.1L324.4,532.8L327.6,532.7L329.8,533.8L331.0,534.6L333.7,533.8L335.4,535.9L337.0,536.1L338.5,537.7L340.6,537.3L341.7,538.2L344.5,539.5L344.7,540.6L346.2,540.7L345.2,542.1L343.5,542.1L341.5,542.9L339.7,541.5L336.4,541.6L335.2,540.1L333.1,540.9L330.1,539.3L328.4,539.7L325.2,538.0L323.2,538.2L320.7,538.5L319.0,539.2L316.1,540.3L315.2,540.5L312.3,540.6L310.8,540.2L308.9,539.6L306.7,537.8 M335.3,551.3L337.3,549.6L340.3,550.3L342.7,551.2L343.7,552.0L342.1,551.6L340.5,553.8L338.5,552.8L336.5,551.5L335.3,551.3 M350.4,541.2L352.0,538.4L352.8,536.9L355.8,536.9L356.6,535.4L358.8,534.6L361.2,536.2L362.7,536.0L365.9,536.6L368.1,536.2L369.5,536.1L373.0,534.3L374.7,535.7L374.8,535.7L377.8,537.5L375.7,539.1L375.8,542.1L373.6,542.8L371.7,542.9L369.9,544.4L368.2,543.3L364.9,542.4L363.1,543.4L361.8,545.1L359.9,546.2L357.8,547.6L355.4,548.0L353.7,545.3L352.2,543.9L350.6,542.1L350.4,541.2 M381.3,535.5L383.3,534.7L385.5,534.2L388.2,534.8L389.4,536.1L389.1,536.9L387.1,538.6L383.7,538.7L383.4,536.8L381.3,535.5 M397.0,530.8L397.7,531.4 M400.4,529.1L401.1,529.8 M403.1,532.5L403.8,533.1 M406.4,534.8L407.1,535.5 M407.8,537.5L408.5,538.2 M328.2,514.0L328.9,515.0 M331.6,517.3L332.6,518.3 M334.9,522.4L335.9,523.4 M340.0,524.1L341.0,524.7 M345.0,527.4L346.0,528.1 M350.0,529.1L351.0,529.8 M355.1,527.4L356.1,528.1 M358.4,529.1L359.4,529.8 M365.1,479.7L365.8,480.4 M315.1,512.6L315.6,515.0L316.4,517.6L315.7,518.7L317.4,521.6L317.6,523.0L317.8,525.2L318.9,525.9L318.9,527.1L319.2,530.3L316.6,531.5L315.7,529.8L313.9,528.5L313.2,525.7L313.7,523.8L312.3,521.2L311.5,519.6L311.5,516.7L310.0,514.7L309.2,513.4L308.0,510.8L306.2,510.3L304.4,508.6L302.5,506.9L300.9,507.3L299.4,505.4 M291.8,275.7L291.2,273.5L292.7,272.5L293.3,271.1L292.9,269.3L291.7,267.3L292.0,263.9L292.2,263.1L292.3,259.6L293.8,258.8L294.0,257.1L294.5,253.4L296.2,251.3L298.3,254.5L298.2,255.7L299.0,254.8L300.6,253.7L300.7,252.0L302.4,248.9L303.6,246.6L306.4,246.4L307.5,243.4L309.6,244.4L309.4,248.0L308.4,250.2L310.5,251.3L311.1,254.8L312.4,256.2L313.9,258.5L314.5,259.7L317.1,262.0L318.6,263.0L318.7,263.9L318.7,266.8L317.5,269.1L317.8,270.6L315.4,273.2L315.1,274.5L314.4,276.1 M296.9,252.2L297.0,255.1L298.2,257.0L297.9,258.0L297.7,259.9L299.0,262.9L299.1,265.0L299.8,266.8L299.6,269.0L300.6,270.8 M303.0,248.1L302.8,250.8L303.7,251.8L304.8,253.5L305.8,256.7L305.5,258.8 M255.0,268.5L257.2,268.8L259.2,267.4L261.9,267.8L263.7,268.8L264.8,267.3L267.9,266.4L269.7,265.0L271.8,264.7L272.7,266.0L275.8,267.0L277.8,268.6L279.3,271.3L282.4,272.5L283.5,272.8 M316.3,261.4L318.9,260.8L320.3,260.0L322.3,261.2L324.4,260.7L327.0,261.8L328.9,262.6L331.5,264.0L333.1,263.8L335.0,265.8L336.3,268.1L338.0,268.0L340.1,269.2L343.6,268.7L344.9,270.5L347.4,272.0L348.7,273.4L350.5,273.5L353.7,275.0 M336.7,267.5L336.7,269.6L337.5,271.0L338.0,273.6L337.3,275.2 M344.9,266.5L347.0,270.6 M396.0,227.7L394.7,227.5L392.7,228.5L390.7,229.2L388.1,229.3L386.4,229.6L383.5,231.5L383.3,232.1L382.7,233.8L381.6,237.4L383.2,239.3L382.5,240.6L383.9,241.8L382.6,243.9L382.7,247.1L383.0,248.5L384.2,251.0L384.9,251.6L386.0,254.0L386.6,257.1L384.1,258.5L384.6,260.2L381.8,261.0L378.8,261.9L376.9,263.0L375.8,264.6L374.3,266.3L371.2,268.3L370.0,268.3L368.7,269.2L366.1,269.7L363.5,270.9L360.8,271.4L358.4,270.7L357.3,272.1L356.2,273.5L355.7,276.0 M240.0,283.0L241.9,281.8L244.0,279.3L245.0,276.0L245.3,274.7L248.5,272.5L249.3,269.9L250.6,270.5L252.4,269.3L253.4,268.7L255.8,270.3L257.7,269.5L260.0,268.4L262.5,266.9L265.4,266.5L266.9,265.4L269.2,266.5L269.4,265.1L271.3,263.0L270.9,265.9L271.5,268.6L273.1,268.9L274.0,269.1L275.7,270.9L276.5,272.5L277.9,272.2L279.2,273.2L281.0,275.9L281.3,276.9L283.1,279.0L283.8,281.1L283.6,282.2L284.8,284.6 M247.2,290.2L249.1,288.7L250.8,287.7L251.0,286.6L253.1,284.8L255.8,282.5L252.6,282.6L250.6,283.0L250.0,284.2L247.6,284.8L246.4,286.8L247.2,290.2 M250.0,293.0L250.6,293.7 M249.0,297.1L249.6,297.7 M291.1,252.4L292.5,251.0L294.2,251.1L295.7,248.7L297.9,248.0L300.5,247.6L301.2,245.6L302.5,244.5L306.0,244.5L306.8,244.9L308.7,245.2L309.7,246.5L310.9,249.7L309.5,250.8L308.8,253.3L307.2,254.2L306.1,255.6L303.4,257.8L301.8,258.8L301.1,261.9L299.0,262.2L298.0,263.6L296.0,266.0L294.5,266.6L292.4,268.8L291.0,270.5L288.3,266.7L290.1,264.1L291.4,262.6L292.7,260.2L293.9,259.1L292.1,254.8L291.1,252.4 M309.5,253.4L311.4,255.8L312.7,258.3L313.3,259.9L316.2,260.9L316.3,262.8L317.8,266.1L316.9,268.1L316.4,270.1L314.7,271.6L313.5,270.9L310.8,272.7L310.1,273.1L306.8,274.0L305.8,273.1L303.1,274.7L300.4,274.0L300.0,277.6 M317.7,257.5L320.6,258.2L322.5,260.0L324.5,261.2L326.7,262.8L328.7,263.2L329.4,263.6L331.9,262.8L333.8,262.6L335.7,263.6L336.7,265.7L340.2,264.5L342.5,264.6L344.3,265.3L346.8,265.5L348.8,264.7L349.4,266.9L351.4,267.5L352.5,268.5L354.8,270.3L356.5,269.6L358.0,268.6L360.3,267.9L362.4,268.2L365.1,267.7L366.2,269.2L369.0,268.0L371.0,267.0L372.4,265.4L374.6,264.8L377.8,265.4L379.3,265.8L381.6,264.1 M336.1,270.8L336.3,272.6L337.6,276.3L336.5,278.2L335.6,281.0L337.5,283.7L338.7,285.7L339.5,286.5L340.8,289.0L342.1,289.1L343.8,292.0L346.9,291.9L349.0,293.9L350.2,293.2L352.9,294.0L353.8,295.5L356.4,295.1L358.7,295.4L359.7,296.1L361.9,296.5L363.4,298.8L364.9,300.2L366.9,300.9L367.9,302.8L371.0,303.1L372.3,304.6L375.6,304.0L377.1,304.3L378.7,303.0L380.7,303.7 M336.1,270.8L338.3,271.8L339.5,272.3L341.8,273.2L344.0,274.6L345.6,275.7L347.9,276.5L349.9,276.5L352.2,276.1L355.5,278.0L357.1,278.4L360.0,279.3L361.8,278.7L364.7,279.7L368.2,280.6L370.4,280.3L373.4,280.3L374.5,281.7L376.8,282.4L378.2,281.7L380.5,281.1 M352.4,276.9L351.2,278.7L351.1,281.9L350.9,284.2L350.7,287.1L352.3,288.6L352.4,291.2L353.2,293.4L353.9,294.9 M362.6,278.9L363.0,280.3L364.2,282.5L364.3,283.3L367.0,285.9L367.0,288.4L369.3,289.9L370.5,292.8L372.0,294.1L374.7,296.1L375.2,297.2L377.2,299.7L378.9,299.7L380.5,300.9 M374.9,265.7L375.3,263.7L375.7,261.0L375.6,257.5L377.8,255.8L379.3,253.9L381.0,251.8 M381.0,275.9L378.4,275.5L377.3,274.1L375.1,273.2L373.0,271.7L370.8,270.4 M297.2,288.1L298.8,286.5L300.3,286.3L301.7,286.3L304.7,287.2L306.0,290.7L303.5,291.7L301.2,292.6L299.4,292.3L298.0,289.9L297.2,288.1 M298.9,288.5L303.8,290.2 M300.3,287.1L301.3,291.2 M290.9,283.8L291.5,284.5 M293.3,282.2L294.0,282.8 M311.5,298.4L313.3,296.4L314.8,295.1L317.4,297.0L319.1,295.9L321.4,296.2L323.4,297.4L322.4,300.1L323.7,302.0L322.6,303.0L321.4,304.0L319.4,304.7L315.8,305.2L314.1,303.7L313.4,302.8L311.7,300.5L311.5,298.4 M313.6,297.3L316.6,303.5 M316.6,296.7L320.7,303.5 M312.6,300.4L322.8,300.0 M314.6,302.4L321.7,298.8 M310.3,295.7L310.9,296.3 M321.5,294.5L322.2,295.1 M329.1,296.7L329.7,297.3 M341.8,320.4L342.8,321.2 M369.2,321.5L370.4,322.3 M374.5,313.3L375.5,314.1 M293.4,360.0L296.1,361.3L298.2,361.2L299.8,361.9L302.0,363.8L303.6,363.7L304.4,366.0L307.2,366.4L309.8,366.5L311.1,368.1L312.9,369.1L313.2,371.3L314.6,372.2L318.9,372.6L320.6,375.5L320.1,377.2L321.8,379.4L321.3,381.6L320.8,384.1L322.2,386.3L321.7,387.0L320.7,390.6L318.6,388.7L315.7,386.3L313.8,384.9L311.8,382.2L311.9,378.8L310.8,376.3L307.7,374.0L306.1,373.1L302.3,371.9L299.4,369.7L295.7,369.0L293.6,367.1L292.8,364.1L293.3,361.3L293.4,360.0 M294.7,369.2L297.0,371.3L298.3,373.0L299.5,373.7L302.1,373.9L301.8,375.6L303.9,376.4L304.4,379.3L305.6,379.7L305.9,383.8L304.6,386.2L302.6,387.4L300.6,385.5L297.7,383.1L297.1,379.8L297.1,379.1L295.4,375.2L294.5,372.1L294.7,369.2 M253.9,356.0L255.7,354.6L257.0,352.7L258.1,352.0L260.9,350.1L263.2,352.5L261.8,356.0L260.5,356.5L257.4,359.2L258.8,362.5L262.5,364.1L264.7,363.2L265.5,367.1L264.2,368.5L260.0,368.9L257.6,371.1L258.9,374.9L262.1,375.2L263.6,375.5 M250.0,358.0L251.2,360.4L252.4,360.9L253.2,364.1L255.3,365.1L256.1,367.7L257.8,369.1L257.0,371.0L258.6,372.9L260.1,375.8L263.1,377.2L265.3,379.1L265.8,375.0 M285.5,373.1L287.2,376.4L290.3,377.5L291.0,381.2L293.3,382.9L293.4,385.2L293.7,389.3L294.8,391.1L298.2,393.1L300.4,394.0L302.2,396.9L301.6,399.4L303.2,401.3L304.4,403.0L305.3,407.2L303.8,410.3L305.1,413.3L307.0,415.8 M280.9,379.0L281.0,380.7L281.3,383.6L281.1,384.9L280.9,387.2L281.1,389.3L279.4,391.0L279.7,393.1L278.5,396.0L277.7,397.9L277.2,398.7L277.1,401.3L278.9,402.8L279.5,407.1L280.5,409.3L282.2,412.4L283.6,416.1 M281.5,387.6L283.0,390.3L284.7,388.0L286.0,392.2L287.7,393.0 M289.4,378.4L292.4,378.9L296.1,380.3L296.6,382.4L297.7,382.7L299.6,384.2L301.0,385.0L304.0,386.8L307.1,388.3L311.1,389.5L315.0,391.3L316.6,393.0L319.6,395.3L320.4,397.0L321.8,399.2L323.8,402.0L322.2,397.3L322.0,394.9 M301.2,394.1L303.6,393.1L305.2,392.2L307.0,392.7L309.3,393.1L310.7,394.4L312.3,395.3L314.7,395.3L315.7,396.8L317.3,398.8L318.1,399.9L320.0,401.3L321.2,404.0 M294.7,402.0L297.1,401.5L297.3,399.9L299.5,397.5L301.8,399.6L303.1,400.8L302.5,403.3L303.3,404.2L301.5,406.1L299.2,406.3L296.6,405.6L295.3,403.6L294.7,402.0 M286.8,374.4L288.6,375.2L288.9,378.2L286.0,376.8 M289.4,384.9L292.4,387.3L291.0,389.4L288.9,387.6 M295.3,374.4L296.1,376.5L298.8,377.5L300.2,378.3L301.2,379.2 M265.8,357.3L268.2,358.4L270.5,359.3L272.4,357.9L274.2,357.9L275.3,358.4L278.1,359.9L280.2,359.9L280.9,359.3 M257.9,354.7L260.0,354.8L261.5,355.3L262.5,357.7L264.0,359.3 M70.8,389.5L71.4,391.5 M72.0,397.5L72.6,399.5 M70.8,405.5L71.4,407.5 M67.0,409.0L69.2,408.9L70.6,409.6L69.8,411.6L67.4,412.6L65.6,411.7L67.0,409.0 M83.0,320.3L83.8,321.0 M38.0,357.2L38.8,357.8 M416.5,280.2L418.7,278.1L418.7,276.0L420.1,275.6L422.6,273.6L423.6,271.6L426.6,270.1L428.3,269.4L428.3,267.7L429.8,265.8L432.9,264.1L435.7,263.0L438.2,263.2L440.1,263.9L441.6,265.4L443.9,266.6L445.7,267.2L448.2,268.3L449.5,268.0L450.8,271.4L448.0,274.6L447.1,275.0L446.4,271.3L444.3,269.5L440.1,267.6L438.0,267.4L434.9,269.9L435.2,270.9L433.9,273.7L432.0,273.9L431.6,275.9L431.1,278.8L428.9,280.1L427.9,280.3L427.2,281.6L423.0,283.4L419.6,282.8L418.3,282.3L416.5,280.2 M417.2,257.8L421.0,256.7L422.0,255.9L424.4,255.7L426.3,256.9L427.4,258.0L431.9,256.7L434.0,255.0L436.8,253.8 M431.6,286.8L434.8,286.0L437.3,285.9L439.5,284.9L441.0,284.2L442.6,285.0L446.3,286.0L444.9,288.5L442.8,288.9L440.1,289.8L439.4,289.2L436.2,288.9L435.6,289.9L433.4,288.6L431.6,286.8 M424.4,239.5L426.0,238.9L428.9,237.5L429.9,236.3L432.1,235.1L434.4,234.1L435.3,232.3L438.7,232.0L440.9,231.7L443.4,232.0L444.7,234.3L445.6,236.8L445.9,237.7L446.3,239.5L445.8,242.0L443.9,242.6L444.8,243.9L443.8,245.6L442.6,248.8L441.0,249.8L439.0,252.0L437.6,253.4L435.3,254.1L434.4,255.1L432.5,253.5L429.7,253.0L428.1,252.2L426.5,250.1L426.2,248.8L423.6,245.6L424.4,244.6L423.8,242.3L424.4,239.5 M427.0,240.8L429.8,239.0L430.7,238.2L432.3,237.5L435.3,237.0L436.2,236.4L438.9,234.2L441.4,236.1L442.3,237.0L444.0,237.7L443.2,240.8L443.7,241.4L442.6,244.5L440.8,246.3L439.7,247.0L437.5,249.4L434.6,250.3L433.3,250.9L431.1,250.2L429.2,249.4L427.7,248.6L428.7,245.7L428.1,244.7L426.7,243.1L427.0,240.8 M431.0,251.3L433.5,252.2L436.4,251.5L438.1,250.0L438.2,249.0L440.9,247.4L442.0,246.5L443.1,244.7L444.0,242.3 M416.5,280.2L416.5,283.5L415.7,285.3L415.4,287.8L416.1,291.2L417.6,293.0L417.9,294.6L417.8,295.7L419.4,297.5L421.6,299.4L422.5,300.8L425.1,302.8L426.4,303.7L429.1,306.2" fill="none" stroke="#3a0a40" stroke-width="2.3" stroke-linejoin="round" stroke-linecap="round"/>
<path d="M204.9,66.6L209.2,69.0L212.2,70.5L214.4,72.1L216.7,74.5L218.7,76.2L221.9,77.6L224.1,79.1L227.9,80.6 M227.7,80.7L228.7,78.6L230.5,76.6L233.9,74.4L235.1,72.2L236.4,70.1L238.5,69.6L239.4,73.6L240.3,76.0L242.9,78.1L241.1,81.5L242.9,83.8L240.2,87.0L237.2,87.9L234.5,89.6L232.0,85.9L229.2,85.2L227.0,82.1L227.7,80.7 M217.2,92.0L220.6,94.6L224.2,96.7L228.0,98.3L229.3,94.4L232.6,92.1L234.7,89.4 M242.6,84.2L246.4,85.0L248.6,87.6L250.2,91.5L253.1,93.8L254.8,97.1L256.4,99.9L255.7,104.6L256.6,108.5L258.9,110.2L260.8,109.8L262.1,106.8L264.7,106.0L267.1,102.6L268.5,98.8L270.7,94.8L272.3,90.6L273.0,87.5L272.9,85.1L274.2,81.3L272.0,78.0L269.4,75.6L270.7,73.5 M242.6,78.0L245.1,77.0L247.6,76.1L251.5,73.6L254.1,70.9L255.0,66.7L253.2,63.1L250.5,60.3L249.9,57.1L251.3,55.4 M253.9,71.0L258.0,69.2L259.9,65.1L258.9,60.5L262.1,58.1L264.6,56.9L266.9,55.4 M211.0,70.1L213.5,66.8L215.7,65.5L218.1,64.2L221.0,63.1L223.6,61.9 M275.8,83.3L275.2,85.6L274.1,88.5L273.4,91.0L272.1,94.0L271.9,96.6L271.5,98.7L269.9,102.4L267.1,105.7L265.2,110.6L264.6,114.9L267.0,115.9L269.8,112.9L272.4,112.3L276.0,110.2L277.5,107.7L279.9,106.0L283.0,107.0L285.3,108.9L287.8,108.0L290.5,106.7L293.2,106.1L296.7,107.2L300.7,108.5L304.1,110.6L307.4,112.9L311.2,116.5 M279.3,85.9L278.6,88.4L278.3,91.0L280.2,95.8L281.6,93.2L283.6,89.1L285.8,87.5 M288.1,83.3L289.7,87.4L290.2,90.0L290.5,92.7L292.5,97.3L291.5,101.7L293.6,106.2 M278.5,104.3L281.0,102.9L285.7,102.3L289.8,102.4L292.2,102.0 M285.5,87.7L286.0,90.5L286.7,94.1L285.9,96.6L285.8,99.1L285.7,102.1 M295.1,81.5L296.0,84.3L296.7,86.9L297.7,89.8L298.4,92.2L299.6,94.1L301.0,96.2L303.9,99.7L307.6,102.3L311.0,103.9 M281.1,83.3L282.6,84.8L285.7,85.9L286.7,87.6L284.5,89.7L282.4,88.5L282.1,85.5L281.1,83.3 M188.2,203.5L190.0,205.4L192.5,207.4L194.4,210.0L196.7,213.1L198.7,216.6L201.4,215.5L204.5,213.5L207.3,212.6L210.6,213.6L212.8,215.6L215.7,217.5L218.6,219.5L221.7,218.7L226.2,217.4L228.4,214.7L227.4,210.0L226.2,206.4L228.2,201.8L230.8,199.0L230.2,195.2L226.9,195.0L223.3,196.8L219.6,195.7L222.3,194.1L224.8,190.6L226.8,188.9L228.2,186.5L229.6,185.1L230.8,182.6L232.4,181.0L234.0,178.9L236.5,174.7L238.5,172.6L241.4,170.4L243.7,168.9L246.7,167.1L249.8,166.3L252.5,165.1L255.3,165.2L258.1,165.2L260.8,164.7L263.7,164.7L265.6,164.9L268.3,164.9L271.0,165.0 M230.1,195.0L233.5,196.5L236.5,198.2L239.0,197.2L241.2,196.1L243.7,195.0L246.6,194.1L249.3,192.8L252.9,192.1L256.0,192.1L258.6,192.6L262.0,193.6L265.0,194.1L268.0,192.5L271.3,191.0 M276.5,81.2L275.5,83.9L274.4,86.5L273.4,88.6L272.3,91.4L271.8,94.1L271.3,96.5L269.3,100.6L266.6,103.4L262.8,106.9L261.1,109.8L262.7,111.8L264.0,113.6L267.5,113.2L270.2,113.9L272.2,112.1L274.7,111.1L277.3,107.6L280.7,107.0L283.6,107.7L287.5,108.0L292.0,107.0L292.5,103.8L291.1,100.8L291.8,96.3L291.0,94.2L290.5,91.7L291.9,87.4L293.1,83.6 M279.5,104.7L282.7,104.0L285.7,103.7L288.5,104.3L291.9,104.1L292.0,107.7L289.0,108.2L285.6,109.1L282.6,108.8L279.8,108.7L279.5,104.7 M280.5,82.7L283.7,82.4L286.6,82.8L287.1,85.9L287.0,89.2L284.3,89.5L281.0,90.1L281.1,86.4L280.5,82.7 M281.6,85.3L286.7,86.3 M281.6,88.0L286.1,84.3 M292.8,102.7L295.2,103.4L297.7,103.6L300.4,105.0L302.8,105.6L305.3,106.6L308.0,107.7L310.9,108.8L313.2,109.8L317.5,112.2L320.3,115.3L319.8,119.4L316.3,120.2L314.2,118.4L312.0,117.3L309.6,115.6L307.1,114.0L304.4,112.2L301.9,111.0L299.5,109.5L297.0,108.8L292.5,107.6 M320.4,118.0L320.7,120.8L321.5,123.0L322.3,125.5L323.3,128.1L321.6,132.5L320.5,136.7L322.6,140.2L325.2,143.3L327.4,147.7L329.8,151.8L332.6,154.6L336.1,158.1L338.7,160.6L341.2,163.8L343.1,166.8 M333.7,131.3L335.8,128.1L339.1,125.0L342.6,122.9L347.2,121.4L351.2,119.2L355.0,117.9L356.9,116.3 M333.7,131.3L332.3,135.5L333.6,139.3L331.6,141.8L328.9,140.8L326.6,140.6L325.5,143.4 M333.7,139.5L337.0,141.3L340.6,140.3L344.9,138.4L348.0,140.7L351.3,137.4L354.8,135.6L356.8,135.3 M367.4,103.7L368.2,107.4L369.6,110.6L369.8,113.7L370.6,115.7L373.7,118.2L377.6,119.8L381.8,122.0L385.5,123.9L389.8,124.9L392.9,126.2L396.1,127.2 M377.6,120.1L378.9,122.8L379.5,126.5L379.4,129.1L378.8,131.3L379.4,134.4L379.4,137.3L378.4,140.3L377.5,142.5L378.2,144.8L378.8,147.9L377.3,150.0L375.5,151.5L374.2,153.9L372.4,155.7L370.2,160.2L368.4,163.2L367.3,160.3L366.4,158.1L363.6,156.8L360.4,157.8L358.5,160.1 M357.2,135.4L361.3,133.3L363.7,133.1L366.6,132.2L368.6,133.1L371.8,134.1L375.8,136.4L379.3,137.5 M340.8,164.0L344.9,163.0L347.7,161.2L350.8,158.6L355.3,158.0L358.4,160.1L357.5,155.5L354.8,151.6L352.3,148.4L349.0,145.8L345.7,143.6L343.2,144.8L339.7,147.6L338.6,152.1L336.9,153.9L333.5,152.9L330.6,150.9 M254.0,165.0L257.5,165.8L261.3,166.0L264.2,166.8L267.3,167.4L270.0,168.4L273.5,169.1L276.7,170.4L279.4,172.3L281.8,174.1L284.0,176.4L284.3,178.6L285.4,181.4L287.6,182.7L289.7,184.2L292.1,186.2L293.9,187.5L295.7,189.1L297.8,190.9L300.3,193.3L302.2,195.4 M283.6,176.3L282.3,178.7L281.3,181.3L279.9,183.2L277.8,184.3L275.8,186.2L274.3,188.2L272.9,190.4L271.5,192.7L269.4,195.5 M304.0,172.2L306.3,170.3L308.3,168.1L310.2,166.4L311.9,165.0L316.4,162.8L319.1,162.7L321.7,162.2L325.5,162.8L329.4,165.2L334.0,166.8L336.4,166.0L338.7,163.1L335.5,161.2L332.5,162.3L330.5,163.9 M304.0,172.2L301.8,176.6L300.5,178.5L298.6,180.4L297.6,182.7L296.2,184.2L293.7,187.9 M342.9,167.1L343.9,170.0L344.8,171.9L347.3,176.1L348.5,178.2L350.1,180.7L352.4,184.7L354.0,188.8L355.8,192.6L357.5,195.5 M347.0,176.3L351.0,175.3L355.0,176.4L358.3,173.9L357.5,169.8L356.8,167.5L355.9,164.7L357.5,162.7L358.2,160.1 M368.4,163.0L369.8,165.8L370.5,167.9L371.5,171.0L372.7,173.3L374.3,175.2L375.6,177.5L377.4,181.6L380.4,184.5L383.8,187.3L387.1,190.5L387.6,193.1L388.9,195.6 M358.2,174.2L359.4,176.5L361.4,179.1L362.6,182.1L364.6,184.7L365.1,186.7L366.6,189.6L367.3,192.3L368.4,195.5 M383.8,187.5L387.9,186.8L390.7,188.2L392.1,192.3 M401.3,138.5L400.6,134.8L400.7,131.2L399.9,127.7L399.5,124.1L399.7,121.0L399.5,117.8L400.6,116.1L402.3,114.2L406.2,112.1L410.7,110.8L412.3,109.4L414.8,107.8L417.2,108.5L419.8,108.8L422.1,108.3L424.9,108.1L427.8,107.3L429.8,106.6L432.6,108.0L434.9,109.0L436.4,111.8L435.9,114.9L435.2,118.3L433.8,121.0L431.8,120.3L428.8,120.1L425.0,119.1L421.1,118.8L417.4,120.8L414.3,124.1L413.3,128.3 M436.1,111.9L438.7,110.7L441.5,109.8L444.1,109.2L446.4,108.9L450.2,111.1 M434.0,121.1L436.3,121.9L439.0,123.4L441.7,123.8L444.1,125.3L447.0,125.9L449.6,127.1L451.9,127.4L454.4,128.0L457.3,127.5L459.8,127.0L463.4,125.9 M459.6,126.8L461.9,131.4L462.8,133.7L463.5,136.7L465.2,138.1L466.6,140.4L469.5,141.9L473.2,139.7L475.6,137.4 M469.8,141.5L469.0,144.8L469.0,147.9L468.5,150.5L467.4,153.5L467.5,157.1L466.8,159.7L466.0,162.7L464.6,165.7L463.5,169.1L461.8,172.4L460.7,175.6L459.8,178.6L458.9,181.1L457.7,184.3L456.4,187.4L455.9,190.3L454.4,192.9L453.8,195.7 M481.1,145.6L484.3,146.7L485.3,148.6 M483.1,148.7L482.0,152.9L480.2,157.1L478.9,160.2L483.3,161.0L485.6,160.5L487.9,159.6L490.6,158.6L493.0,158.0L497.6,156.9 M479.0,159.9L477.8,162.6L477.2,165.1L475.8,167.6L474.9,170.0L473.1,172.4L472.0,174.5L468.6,177.1L468.3,179.5L467.6,182.4L467.2,185.8L466.8,188.6L466.3,192.3L465.6,195.3 M468.8,177.3L471.2,179.5L472.6,181.1L474.7,184.0L476.7,186.2L478.5,188.7L479.9,191.5L481.9,195.3 M415.7,166.1L414.5,168.9L413.5,172.1L413.0,175.1L412.3,178.6L412.2,181.4L411.2,184.3L408.8,187.5L406.3,191.8L405.7,195.4 M419.7,165.0L422.8,168.1L424.6,172.1L425.4,175.4L426.0,178.4L426.3,181.1L426.6,184.7L427.7,187.8L427.6,190.8L428.2,193.0L428.7,195.9 M385.0,178.3L387.3,181.6L389.0,185.8L392.0,188.6L394.3,192.4L393.1,195.4 M438.1,192.6L442.4,193.4L446.1,195.5 M469.3,180.0L471.0,182.1L472.6,184.3L474.4,185.9L475.8,187.9L477.3,190.0L478.7,192.7L480.8,195.4L481.8,197.7L483.6,200.5L484.8,202.7L486.7,205.6L487.9,208.3L489.5,210.7L491.3,212.6L493.1,214.7 M459.0,180.0L458.0,182.8L457.2,185.8L456.2,188.2L455.5,191.0L454.9,194.0L454.1,196.2L453.0,199.4L451.7,202.7L450.7,206.7 M492.8,214.7L495.3,213.7L498.0,212.9L502.3,212.0 M492.8,214.7L490.4,216.1L487.8,217.8L485.2,219.1L482.1,220.2L479.5,221.9L476.6,223.0L474.0,224.3L471.1,225.9L468.5,227.3L465.9,228.6L462.9,229.7L460.6,231.4L457.9,232.0 M502.0,211.7L504.9,211.1L508.1,210.5L510.8,209.2L514.0,208.5L517.2,208.0L520.7,207.5L523.5,211.0 M502.0,211.7L502.4,214.8L502.9,217.7L502.7,221.2L502.7,223.7L502.0,226.5L501.9,229.1L501.5,232.1L501.2,234.3L501.2,237.0L500.4,239.9L500.6,242.4L499.7,245.6L499.4,248.4L499.7,251.7L502.0,252.8L504.3,254.5L504.0,257.6L503.9,260.7L503.6,263.5L504.0,266.5 M504.0,254.6L505.8,252.8L508.2,250.8L510.9,249.0L514.2,247.2L517.1,246.9L520.5,245.8L523.5,245.7L526.8,245.1L530.3,246.7L532.4,248.3L534.4,250.5L536.3,252.5L537.7,254.3 M526.5,294.4L529.7,294.0L532.5,293.7L536.0,294.2L539.1,294.1L542.8,296.5L543.2,299.7L544.1,302.4L543.9,306.0 M410.0,197.4L414.4,199.4L416.4,198.9L419.2,198.6L422.0,196.2L426.7,195.0L430.5,193.0L434.7,194.3L438.9,193.1L443.0,194.1L444.9,196.1L447.5,198.3L451.2,200.3L454.1,199.1L457.0,197.4 M428.4,180.0L428.6,183.1L429.4,186.0L429.1,188.8L428.1,191.0L430.1,193.1 M436.6,180.0L437.2,183.4L437.9,186.4L437.8,189.9L438.8,193.3 M410.0,200.4L412.9,202.0L414.8,203.3L416.9,205.1L419.3,206.8L420.4,208.3L422.6,210.5L425.2,214.0L429.1,216.0L432.8,214.8L434.6,217.5L432.6,219.9 M422.3,206.6L426.5,205.6L430.2,206.4L434.6,205.3L438.3,206.4L442.9,205.6L446.7,206.9L447.9,210.5L448.9,213.5L449.8,215.7L450.9,218.7L452.0,220.7L453.0,223.3L453.9,226.1L454.6,228.5L455.9,231.2L458.3,232.1L457.8,234.5L457.2,237.2L459.1,241.1L461.3,242.8L463.0,244.2L465.9,245.7L468.6,246.2L468.5,249.1L468.9,251.8L468.9,254.0L468.2,256.8L467.0,259.1L466.4,261.9L465.8,264.0L465.0,266.7L464.9,269.5L465.2,272.3L465.2,275.3L465.2,278.1 M447.8,198.4L446.6,202.5L447.1,206.6 M450.9,206.6L451.5,209.5L452.7,212.8L453.9,215.7L455.3,219.0L455.5,221.6L456.7,225.0L457.4,228.5L457.7,232.1 M410.0,210.7L411.8,213.3L412.7,215.5L414.9,218.4L415.9,221.0L418.0,223.7L419.3,226.2L419.9,228.5L421.5,231.0L422.0,235.4 M487.7,344.0L490.4,343.2L492.5,343.1L493.6,345.7L494.1,347.9L493.3,351.0L492.7,354.0L495.8,356.0L500.0,357.4L503.3,360.6L504.7,363.7L507.6,364.3L510.1,364.2L510.8,367.3L511.5,370.6L510.9,373.7L510.0,376.9L508.2,379.8 M436.2,333.4L436.8,329.3L440.8,330.0L443.0,331.0L445.9,331.5L449.7,332.7L453.2,334.4 M456.0,295.0L456.1,297.4L456.4,300.7L456.8,302.9L457.0,306.0L457.1,308.7L457.4,311.1L458.0,314.7L458.1,318.7 M487.7,344.0L489.8,342.5L491.9,341.0L493.7,339.5L495.5,337.8L497.6,336.7L500.2,335.0L501.0,332.9L502.5,330.8L504.1,328.5L505.5,326.1L507.0,324.1L508.3,322.1L509.3,319.7L510.7,317.3L512.4,315.6L513.5,313.2L515.2,310.6L516.2,308.8L517.7,306.4L518.8,303.9L520.5,301.7L522.0,299.8L523.4,297.1L524.5,294.7 M499.9,334.9L502.9,334.8L506.1,335.7L509.3,335.5L512.0,336.2L514.9,336.1L518.6,335.6L521.7,336.0L524.4,335.8L527.3,335.9L530.2,336.2L532.5,335.5L535.5,336.0L538.2,335.6L540.5,336.2 M540.8,335.9L540.4,338.9L540.6,341.8L540.1,344.8L539.8,348.3L539.3,351.4L539.6,354.5L539.2,357.6L538.9,360.4L538.5,363.2L537.8,365.6L537.0,368.0L536.6,370.9L536.4,373.2L536.0,375.8L534.9,378.7L534.4,381.8L534.1,384.2L533.9,387.0 M528.5,384.5L529.0,381.9L529.2,379.7L529.4,376.8L531.1,373.9L532.4,371.6L536.9,369.5 M334.4,265.3L338.5,267.4L342.9,269.1L347.2,270.7L351.7,271.3L356.2,269.9L360.6,268.7L365.0,269.7L368.4,271.7L371.8,272.9L374.7,275.7 M336.1,277.6L340.7,278.1L345.0,280.1L349.6,280.9L353.6,281.8L358.1,282.7L362.5,283.6L366.9,284.4L371.1,285.5L375.7,286.4L379.9,286.9L383.2,287.8L385.8,286.1 M340.5,267.0L342.4,263.4L345.2,264.2L347.3,266.8 M383.4,241.6L387.6,240.0L392.2,238.0L394.6,236.9L396.5,235.6L400.2,235.5 M384.3,246.0L388.4,247.7L393.4,249.4L397.5,251.0L400.3,253.3L401.7,256.4L402.7,260.7L403.4,264.2L404.6,268.8L403.9,273.5L404.7,277.9L406.4,280.7L406.8,285.8L409.1,289.0L411.5,291.5L414.0,293.1L416.8,294.0 M376.4,260.9L380.5,262.0L385.2,262.9L389.4,264.5L392.9,266.4L395.5,264.5L399.2,262.5L402.4,260.9 M389.6,264.4L388.7,269.0L387.6,273.0L389.4,276.9L392.0,279.4L395.4,280.8L399.3,281.9L402.4,281.0L404.8,277.5 M400.1,253.0L404.5,251.2L408.8,250.1L412.6,247.8L412.2,244.1L415.6,241.9L419.6,239.8L422.9,238.2L426.1,236.1L430.0,234.4L433.4,232.5 M408.8,250.4L410.3,254.5L413.3,258.4L416.2,261.0L417.6,264.1L417.0,268.8L416.1,272.9L414.3,276.7L412.1,280.1L410.3,283.7L409.5,286.5L408.6,289.1 M417.6,264.4L421.2,262.8L425.8,260.8L429.1,259.1L432.8,258.5L436.2,260.1L439.3,263.0L443.3,264.7L446.4,265.5L451.0,267.3 M415.8,260.9L417.4,258.7L418.4,256.7L421.2,253.1L424.0,249.2L426.0,246.0L428.7,242.8L431.3,240.2L434.9,238.8L438.8,240.9L442.1,240.0L445.7,242.0 M425.5,260.9L426.4,265.3L425.5,269.6L423.9,272.9L421.2,276.1L418.7,277.6L415.7,278.2L413.8,276.7 M432.5,258.3L434.5,254.2L436.6,250.6L440.6,247.8L444.1,245.8L446.4,244.3 M428.1,225.0L430.9,228.5L431.9,231.0L433.3,232.8L435.8,235.5L439.6,236.3L443.1,234.6L445.3,235.8L445.5,238.6L445.9,241.4L446.2,244.1L450.6,246.3 M416.7,294.2L420.2,294.8L423.6,294.2L427.0,292.3L429.3,288.0L429.7,283.8L431.3,279.3L434.3,275.5L436.9,273.0L439.7,270.6L443.3,268.9L446.3,267.7L451.0,267.3 M442.1,300.3L444.4,302.0L447.2,303.8L451.1,304.8 M443.9,307.3L446.7,309.3L450.7,310.9 M341.9,320.1L342.6,320.8 M369.6,321.9L371.0,322.6 M357.7,329.8L358.4,330.5 M438.3,329.8L439.0,330.5 M433.4,242.5L436.8,244.3L439.5,247.0L437.5,249.8L434.9,247.6L434.5,245.5L433.4,242.5 M230.0,356.2L231.7,355.0L233.9,352.8L237.3,350.9 M238.9,351.5L236.7,353.2L233.9,355.4L231.5,357.6L229.3,359.5L227.0,361.3L224.8,362.5L222.5,364.7L219.9,366.1L217.2,367.7 M217.4,417.9L220.3,419.2L223.7,420.8L226.5,422.4L229.3,423.4L232.0,425.0L234.6,425.9L237.3,427.0L240.1,428.2L242.4,429.0L245.6,429.8L248.2,431.2L251.0,432.1L253.5,433.2L256.4,433.9L259.0,434.6L261.8,435.2L264.2,435.7L267.5,436.0L270.2,436.6L272.5,436.7L275.0,437.5L278.2,437.5L280.8,438.3L283.5,438.9L286.2,439.9L288.2,440.8L291.3,441.2 M274.7,436.3L275.1,439.3 M200.4,477.8L203.1,479.1L205.8,479.6L208.3,481.2L210.9,483.0L213.2,484.7L216.0,486.3L218.6,487.4L221.0,488.8L223.4,489.7L226.0,490.5L229.9,491.3L233.4,494.3L234.8,496.2L236.3,498.4L237.4,500.3L239.6,502.1L241.3,505.1L244.2,504.6L247.1,506.6L249.2,508.7L250.3,510.8L252.5,514.6L254.9,518.7L257.8,520.5L259.4,521.6 M285.3,546.3L285.0,549.2L285.1,552.0L285.4,554.2L285.4,557.1L285.3,559.8L285.5,563.1L285.3,565.8 M282.2,558.5L285.1,558.3L288.2,558.7 M282.2,558.5L282.2,565.7 M288.3,558.5L289.3,565.7 M280.0,439.9L282.6,440.1L284.9,440.9L287.3,441.1L290.2,441.6L293.0,442.7L295.5,444.1L299.3,446.0L302.8,449.1L304.4,453.5L304.9,456.0L305.4,458.2L305.4,462.4L309.9,460.4L311.5,459.1L313.9,457.2L316.0,455.4L317.9,454.4L320.0,452.7L321.6,451.1L323.8,449.6L325.9,448.0L328.1,446.6L330.3,444.8L333.0,442.7L335.9,442.1L339.6,439.6L341.2,437.1 M329.6,150.0L331.9,154.4L336.1,152.9L338.5,156.0L341.9,158.9L344.8,158.2L348.1,161.0L347.2,163.7L346.7,166.1L344.6,169.6 M332.7,161.9L337.0,160.9L339.5,162.5L342.0,163.1L343.1,166.5L340.0,167.4L337.6,167.7L333.9,165.0L332.7,161.9 M334.7,163.3L340.8,165.3 M312.2,163.3L316.1,162.4L320.5,160.0L322.9,160.5L325.8,161.3L329.7,163.4L333.4,165.6L338.0,167.4L341.9,169.4L345.1,170.5L345.3,173.0L345.7,175.2L347.0,178.4L348.1,180.5L351.1,183.8L354.2,186.8L356.2,191.0L359.5,194.0L363.5,195.1L364.6,192.7L366.3,190.8L368.4,186.6 M312.2,163.3L310.5,167.5L308.6,169.6L307.4,171.2L305.7,173.8L304.0,175.8L302.2,177.0L299.7,178.8L296.8,181.6L293.8,184.9L291.0,187.1L287.9,185.5L285.6,182.4 M344.9,158.2L347.3,157.6L349.8,157.1L352.3,157.8L355.1,158.0L359.4,157.0L363.0,156.4L367.6,157.4L369.3,161.1L370.6,163.5L371.8,166.5L373.1,168.1L374.4,170.4L378.0,173.3L379.7,174.7L382.0,176.7L383.5,178.8L384.6,180.5L385.0,183.2L385.5,185.5L383.5,190.1L381.9,193.8L382.6,196.3L382.5,199.0L381.9,201.3L380.9,204.2L379.4,206.1L377.3,208.0L375.7,212.3L374.7,214.7L373.4,217.2L370.7,220.7L366.1,219.6L362.0,218.4L360.1,217.1L358.4,215.5L356.5,213.0L355.2,211.4L350.7,209.5L347.2,207.1L343.9,206.3L343.2,210.4L341.4,212.5L339.8,214.1L335.8,215.3L331.5,213.3L327.4,212.2L323.6,211.6L320.4,209.5L319.1,205.2L316.5,204.4L313.2,203.9L310.5,201.2L308.2,196.9L305.8,194.0L303.0,192.2L300.1,190.0L296.9,188.0L293.6,186.1 M355.1,158.2L356.2,160.8L357.0,163.0L358.4,166.0L359.3,168.2L360.2,171.1L361.4,173.8L361.5,176.3L362.0,178.7L364.4,182.4L366.3,185.9L368.7,186.5L372.5,188.0L374.8,188.6L377.9,188.7L381.5,190.6 M384.8,180.7L388.7,182.6L392.1,186.1L396.1,187.1 M385.8,185.8L387.8,187.9L389.5,189.8L391.1,191.6L393.2,193.7L395.9,196.0 M382.7,199.0L386.8,197.7L390.6,200.2L393.4,200.3L396.0,201.0 M390.9,200.1L391.8,202.3L391.7,204.9L394.0,209.6L396.2,211.0 M255.0,165.3L257.6,164.9L260.4,164.9L262.7,165.4L265.2,166.4L267.7,167.4L270.0,168.3L273.2,169.3L275.4,170.6L279.7,172.6L282.5,175.7L283.9,177.7L285.3,179.4L287.5,183.6L290.9,186.5 M255.0,192.9L259.4,193.7L263.5,193.2L267.3,195.2L269.6,191.9L272.6,189.5L275.6,188.9L279.7,189.6L283.3,188.8L285.7,187.9 M382.7,247.1L385.1,247.6L388.2,247.9L392.2,246.4L396.1,245.0 M385.8,256.3L389.8,257.3L392.7,256.5L395.9,256.0 M375.6,264.4L377.9,268.4L379.9,272.7L381.0,276.0 M385.0,251.3L389.1,253.2L392.0,256.6L394.7,260.7L397.8,263.2L400.7,265.7L402.1,270.0L403.1,273.5L402.4,277.9L400.8,281.5L397.9,284.3L394.8,285.6L391.9,286.8L388.4,288.1L384.7,289.4 M400.8,246.0L404.4,244.5L409.0,244.0L412.3,244.7L415.6,246.8L417.7,249.8L418.6,254.2L416.8,258.0L415.3,261.8L414.5,265.4L415.8,269.7L416.4,274.0L415.8,277.8L416.8,280.4 M400.8,246.0L399.4,250.0L400.4,253.6L401.9,257.5L403.4,261.8L405.0,266.0L406.6,269.7L409.0,273.1L412.6,275.4L416.1,277.2 M394.9,260.5L397.9,259.8L401.8,258.3 M402.7,273.6L405.9,274.5L409.2,273.3 M408.6,225.0L410.9,228.8L413.1,230.8L414.9,232.3L418.8,235.8L421.3,238.5L424.4,240.6 M392.9,228.9L396.6,230.1L400.3,232.9L401.8,236.7L401.1,241.1L401.3,243.4L401.1,246.4 M385.0,236.8L388.7,238.0L392.7,240.2L396.9,242.1L399.0,244.1L400.6,246.1 M455.9,225.0L456.6,227.3L456.6,230.0L456.5,232.8L456.2,235.6L456.6,238.2L456.7,241.1L459.4,244.6L462.9,247.0L466.8,248.3L468.7,252.7L468.4,255.3L467.9,257.9L466.9,260.2L466.6,263.1L465.5,265.8L465.0,268.2L464.8,271.1L464.0,273.8L461.2,276.9L457.2,278.8L453.5,280.5L451.2,283.0L451.5,285.1L452.1,288.3L452.2,291.0L452.8,293.2L453.2,296.2L453.1,298.9L453.6,301.8L453.9,305.4 M466.5,263.1L470.4,264.3L472.7,265.2L475.8,265.9 M463.8,273.6L466.4,274.5L468.8,274.7L472.0,276.0L475.7,276.7 M457.3,278.9L459.3,280.5L460.9,283.1L464.1,283.5L466.6,284.8L469.1,284.7L471.8,284.4L475.8,283.1 M469.1,225.0L466.2,226.5L463.7,227.9L461.7,228.9L459.4,229.5L456.6,230.5 M430.3,225.0L432.0,229.0L435.0,232.4 M426.4,282.2L427.3,284.5L428.5,286.7L429.5,289.7L430.2,292.0L431.0,294.9L431.5,297.1L431.8,300.1L431.8,303.0L432.3,305.6 M385.0,268.4L388.2,270.0L391.5,269.7L394.6,271.3L398.2,270.3L401.8,269.5 M398.1,284.1L399.3,288.2L398.6,292.0L397.3,296.0L399.6,299.9L402.9,302.6L405.7,305.5 M385.0,298.6L388.3,297.4L391.9,297.8L395.1,299.7L397.6,302.2L398.4,305.4" fill="none" stroke="#3a0a40" stroke-width="1.5" stroke-linejoin="round" stroke-linecap="round"/>
</g>
<line x1="285.5" y1="73" x2="285.5" y2="571.5" stroke="#3a0a40" stroke-width="1.5"/>
<line x1="26" y1="312" x2="545" y2="312" stroke="#3a0a40" stroke-width="1.5"/>
<circle cx="285.5" cy="312" r="259.5" fill="none" stroke="#3a0a40" stroke-width="1.6"/>
<line x1="489" y1="157.6" x2="497.5" y2="156" stroke="#3a0a40" stroke-width="1.4"/>
<rect x="267" y="54.6" width="280" height="19" fill="#fff"/>
<rect x="320" y="40" width="240" height="20" fill="#fff"/>
<g class="t">
<text x="196" y="14.2" textLength="91.5" lengthAdjust="spacing">NCEP/NCAR</text>
<text x="299" y="14.2" textLength="79" lengthAdjust="spacing">Reanalysis</text>
<text x="1" y="37.6" textLength="52" lengthAdjust="spacing">500mb</text>
<text x="64.5" y="37.6" textLength="93.5" lengthAdjust="spacing">Geopotential</text>
<text x="169.5" y="37.6" textLength="47" lengthAdjust="spacing">Height</text>
<text x="226.6" y="37.6" textLength="30.5" lengthAdjust="spacing"><tspan font-size="17.5" dy="0.9">(</tspan><tspan dy="-0.9">m</tspan><tspan font-size="17.5" dy="0.9">)</tspan></text>
<text x="266.5" y="37.6" textLength="79.5" lengthAdjust="spacing">Composite</text>
<text x="354.5" y="37.6" textLength="66.5" lengthAdjust="spacing">Anomaly</text>
<text y="37.6"><tspan x="431" textLength="38" lengthAdjust="spacing">1981</tspan><tspan x="469" dy="-0.3" textLength="14.2" lengthAdjust="spacingAndGlyphs">-</tspan><tspan x="483.3" dy="0.3" textLength="37.8" lengthAdjust="spacing">2010</tspan></text>
<text x="532.5" y="37.6" textLength="40.5" lengthAdjust="spacing">climo</text>
<text x="248" y="610.3" textLength="27.5" lengthAdjust="spacing">Jan</text>
<text x="285.5" y="610.3" textLength="38.5" lengthAdjust="spacing">2019</text>
</g>
<g class="n">
<text x="307" y="65.8" textLength="32.5" lengthAdjust="spacing">NOAA</text>
<text x="348" y="65.8" textLength="52" lengthAdjust="spacing">Physical</text>
<text x="408.5" y="65.8" textLength="55.5" lengthAdjust="spacing">Sciences</text>
<text x="472" y="65.8" textLength="69" lengthAdjust="spacing">Laboratory</text>
</g>
<polygon points="621.0,63.4 629.5,38.8 638.0,63.4" fill="#c80000" stroke="#000" stroke-width="1.45" stroke-linejoin="miter"/>
<rect x="621.0" y="63.40" width="17.0" height="25.91" fill="#ff3200" stroke="#000" stroke-width="1.45"/>
<rect x="621.0" y="89.31" width="17.0" height="25.91" fill="#ff6400" stroke="#000" stroke-width="1.45"/>
<rect x="621.0" y="115.22" width="17.0" height="25.91" fill="#ffa000" stroke="#000" stroke-width="1.45"/>
<rect x="621.0" y="141.13" width="17.0" height="25.91" fill="#ffc800" stroke="#000" stroke-width="1.45"/>
<rect x="621.0" y="167.04" width="17.0" height="25.91" fill="#ffff00" stroke="#000" stroke-width="1.45"/>
<rect x="621.0" y="192.95" width="17.0" height="25.91" fill="#ffdc00" stroke="#000" stroke-width="1.45"/>
<rect x="621.0" y="218.86" width="17.0" height="25.91" fill="#dcdc00" stroke="#000" stroke-width="1.45"/>
<rect x="621.0" y="244.77" width="17.0" height="25.91" fill="#a0dc00" stroke="#000" stroke-width="1.45"/>
<rect x="621.0" y="270.68" width="17.0" height="25.91" fill="#64dc00" stroke="#000" stroke-width="1.45"/>
<rect x="621.0" y="296.59" width="17.0" height="25.91" fill="#ffffff" stroke="#000" stroke-width="1.45"/>
<rect x="621.0" y="322.50" width="17.0" height="25.91" fill="#ffffff" stroke="#000" stroke-width="1.45"/>
<rect x="621.0" y="348.41" width="17.0" height="25.91" fill="#00c8f0" stroke="#000" stroke-width="1.45"/>
<rect x="621.0" y="374.32" width="17.0" height="25.91" fill="#0a96e6" stroke="#000" stroke-width="1.45"/>
<rect x="621.0" y="400.23" width="17.0" height="25.91" fill="#0a3cdc" stroke="#000" stroke-width="1.45"/>
<rect x="621.0" y="426.14" width="17.0" height="25.91" fill="#2800dc" stroke="#000" stroke-width="1.45"/>
<rect x="621.0" y="452.05" width="17.0" height="25.91" fill="#6400dc" stroke="#000" stroke-width="1.45"/>
<rect x="621.0" y="477.96" width="17.0" height="25.91" fill="#9600c8" stroke="#000" stroke-width="1.45"/>
<rect x="621.0" y="503.87" width="17.0" height="25.91" fill="#c800c8" stroke="#000" stroke-width="1.45"/>
<rect x="621.0" y="529.78" width="17.0" height="25.91" fill="#960096" stroke="#000" stroke-width="1.45"/>
<rect x="621.0" y="555.69" width="17.0" height="25.91" fill="#780078" stroke="#000" stroke-width="1.45"/>
<polygon points="621.0,581.6 629.5,606.5 638.0,581.6" fill="#500050" stroke="#000" stroke-width="1.45"/>
<text x="643.5" y="69.0" class="cl">150</text>
<text x="643.5" y="120.8" class="cl">120</text>
<text x="643.5" y="172.6" class="cl">90</text>
<text x="643.5" y="224.5" class="cl">60</text>
<text x="643.5" y="276.3" class="cl">30</text>
<text x="643.5" y="328.1" class="cl">0</text>
<text y="379.9" class="cl"><tspan x="641.9" dy="-0.4" style="letter-spacing:0" textLength="13.3" lengthAdjust="spacingAndGlyphs">-</tspan><tspan x="656.6" dy="0.4">30</tspan></text>
<text y="431.7" class="cl"><tspan x="641.9" dy="-0.4" style="letter-spacing:0" textLength="13.3" lengthAdjust="spacingAndGlyphs">-</tspan><tspan x="656.6" dy="0.4">60</tspan></text>
<text y="483.6" class="cl"><tspan x="641.9" dy="-0.4" style="letter-spacing:0" textLength="13.3" lengthAdjust="spacingAndGlyphs">-</tspan><tspan x="656.6" dy="0.4">90</tspan></text>
<text y="535.4" class="cl"><tspan x="641.9" dy="-0.4" style="letter-spacing:0" textLength="13.3" lengthAdjust="spacingAndGlyphs">-</tspan><tspan x="656.6" dy="0.4">120</tspan></text>
<text y="587.2" class="cl"><tspan x="641.9" dy="-0.4" style="letter-spacing:0" textLength="13.3" lengthAdjust="spacingAndGlyphs">-</tspan><tspan x="656.6" dy="0.4">150</tspan></text>
</svg>
</body></html>
